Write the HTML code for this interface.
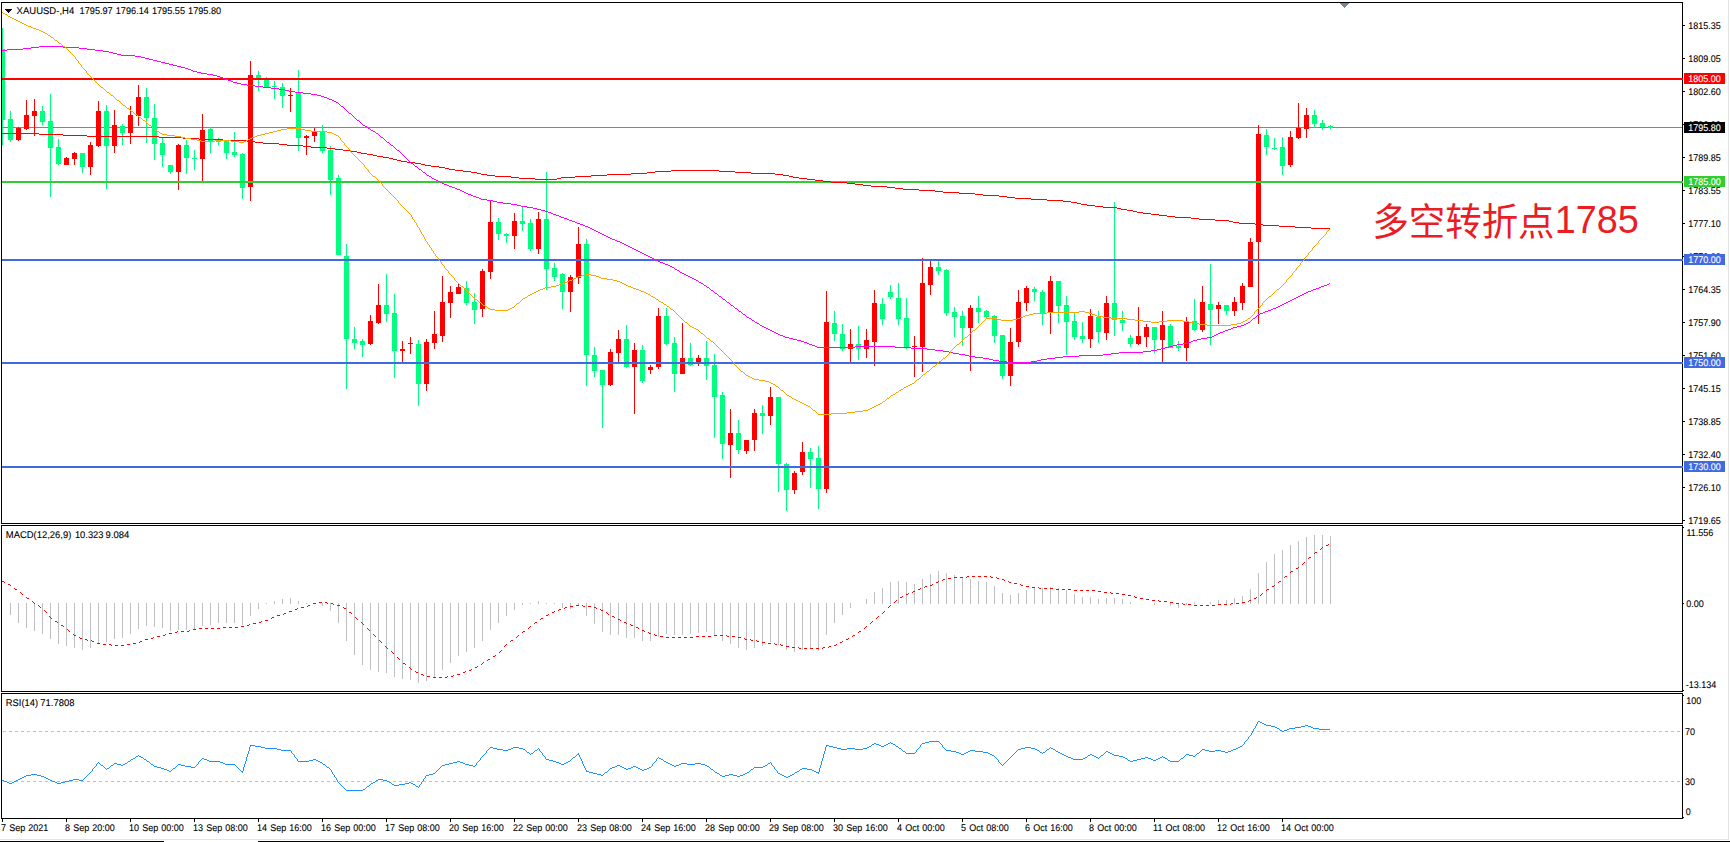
<!DOCTYPE html>
<html lang="zh"><head><meta charset="utf-8"><title>XAUUSD H4</title>
<style>html,body{margin:0;padding:0;background:#fff;overflow:hidden}svg{display:block}text{word-spacing:.5px;font-family:"Liberation Sans","Noto Sans CJK SC",sans-serif}.s{font-size:9px;fill:#000;stroke:#000;stroke-width:.1px}.w{font-size:9px;fill:#fff;stroke:#fff;stroke-width:.1px}.cn{font-family:"Liberation Sans","Noto Sans CJK SC",sans-serif;font-size:37px;fill:#ea1c24}</style>
</head><body>
<svg width="1730" height="842" viewBox="0 0 1730 842">
<rect x="0" y="0" width="1730" height="842" fill="#ffffff"/>
<g shape-rendering="crispEdges">
<rect x="1728" y="0" width="1" height="840" fill="#e3e3e3"/>
<rect x="0" y="839" width="1729" height="1" fill="#e3e3e3"/>
<rect x="0" y="841" width="164" height="1" fill="#000"/>
<rect x="258" y="841" width="1472" height="1" fill="#000"/>
<rect x="2" y="127" width="1680" height="1" fill="#778899"/>
<rect x="2" y="28" width="1" height="117" fill="#00ff7f"/>
<rect x="2" y="49" width="3" height="71" fill="#00ff7f"/>
<rect x="10" y="111" width="1" height="31" fill="#00ff7f"/>
<rect x="8" y="119" width="5" height="21" fill="#00ff7f"/>
<rect x="18" y="127" width="1" height="14" fill="#ff0000"/>
<rect x="16" y="128" width="5" height="12" fill="#ff0000"/>
<rect x="26" y="100" width="1" height="30" fill="#ff0000"/>
<rect x="24" y="115" width="5" height="14" fill="#ff0000"/>
<rect x="34" y="99" width="1" height="37" fill="#ff0000"/>
<rect x="32" y="111" width="5" height="5" fill="#ff0000"/>
<rect x="42" y="106" width="1" height="19" fill="#00ff7f"/>
<rect x="40" y="111" width="5" height="11" fill="#00ff7f"/>
<rect x="50" y="94" width="1" height="103" fill="#00ff7f"/>
<rect x="48" y="121" width="5" height="27" fill="#00ff7f"/>
<rect x="58" y="139" width="1" height="26" fill="#00ff7f"/>
<rect x="56" y="147" width="5" height="17" fill="#00ff7f"/>
<rect x="66" y="157" width="1" height="8" fill="#ff0000"/>
<rect x="64" y="158" width="5" height="7" fill="#ff0000"/>
<rect x="74" y="152" width="1" height="13" fill="#ff0000"/>
<rect x="72" y="153" width="5" height="6" fill="#ff0000"/>
<rect x="82" y="153" width="1" height="20" fill="#00ff7f"/>
<rect x="80" y="153" width="5" height="14" fill="#00ff7f"/>
<rect x="90" y="142" width="1" height="33" fill="#ff0000"/>
<rect x="88" y="145" width="5" height="22" fill="#ff0000"/>
<rect x="98" y="101" width="1" height="46" fill="#ff0000"/>
<rect x="96" y="111" width="5" height="35" fill="#ff0000"/>
<rect x="106" y="105" width="1" height="84" fill="#00ff7f"/>
<rect x="104" y="111" width="5" height="35" fill="#00ff7f"/>
<rect x="114" y="110" width="1" height="43" fill="#ff0000"/>
<rect x="112" y="125" width="5" height="21" fill="#ff0000"/>
<rect x="122" y="124" width="1" height="21" fill="#00ff7f"/>
<rect x="120" y="126" width="5" height="7" fill="#00ff7f"/>
<rect x="130" y="106" width="1" height="38" fill="#ff0000"/>
<rect x="128" y="115" width="5" height="18" fill="#ff0000"/>
<rect x="138" y="85" width="1" height="41" fill="#ff0000"/>
<rect x="136" y="97" width="5" height="19" fill="#ff0000"/>
<rect x="146" y="88" width="1" height="55" fill="#00ff7f"/>
<rect x="144" y="97" width="5" height="21" fill="#00ff7f"/>
<rect x="154" y="104" width="1" height="56" fill="#00ff7f"/>
<rect x="152" y="118" width="5" height="26" fill="#00ff7f"/>
<rect x="162" y="138" width="1" height="29" fill="#00ff7f"/>
<rect x="160" y="143" width="5" height="12" fill="#00ff7f"/>
<rect x="170" y="165" width="1" height="9" fill="#00ff7f"/>
<rect x="168" y="165" width="5" height="7" fill="#00ff7f"/>
<rect x="178" y="144" width="1" height="46" fill="#ff0000"/>
<rect x="176" y="145" width="5" height="27" fill="#ff0000"/>
<rect x="186" y="140" width="1" height="34" fill="#00ff7f"/>
<rect x="184" y="145" width="5" height="13" fill="#00ff7f"/>
<rect x="194" y="150" width="1" height="20" fill="#00ff7f"/>
<rect x="192" y="158" width="5" height="1" fill="#00ff7f"/>
<rect x="202" y="114" width="1" height="67" fill="#ff0000"/>
<rect x="200" y="130" width="5" height="29" fill="#ff0000"/>
<rect x="210" y="127" width="1" height="26" fill="#00ff7f"/>
<rect x="208" y="129" width="5" height="12" fill="#00ff7f"/>
<rect x="218" y="138" width="1" height="7" fill="#00ff7f"/>
<rect x="216" y="140" width="5" height="2" fill="#00ff7f"/>
<rect x="226" y="140" width="1" height="19" fill="#00ff7f"/>
<rect x="224" y="141" width="5" height="12" fill="#00ff7f"/>
<rect x="234" y="132" width="1" height="25" fill="#00ff7f"/>
<rect x="232" y="152" width="5" height="3" fill="#00ff7f"/>
<rect x="242" y="153" width="1" height="46" fill="#00ff7f"/>
<rect x="240" y="154" width="5" height="34" fill="#00ff7f"/>
<rect x="250" y="61" width="1" height="140" fill="#ff0000"/>
<rect x="248" y="75" width="5" height="112" fill="#ff0000"/>
<rect x="258" y="71" width="1" height="20" fill="#00ff7f"/>
<rect x="256" y="75" width="5" height="3" fill="#00ff7f"/>
<rect x="266" y="77" width="1" height="10" fill="#00ff7f"/>
<rect x="264" y="79" width="5" height="8" fill="#00ff7f"/>
<rect x="274" y="81" width="1" height="18" fill="#00ff7f"/>
<rect x="272" y="86" width="5" height="1" fill="#00ff7f"/>
<rect x="282" y="83" width="1" height="25" fill="#00ff7f"/>
<rect x="280" y="87" width="5" height="9" fill="#00ff7f"/>
<rect x="290" y="88" width="1" height="24" fill="#ff0000"/>
<rect x="288" y="95" width="5" height="1" fill="#ff0000"/>
<rect x="298" y="70" width="1" height="81" fill="#00ff7f"/>
<rect x="296" y="93" width="5" height="45" fill="#00ff7f"/>
<rect x="306" y="135" width="1" height="20" fill="#ff0000"/>
<rect x="304" y="136" width="5" height="2" fill="#ff0000"/>
<rect x="314" y="128" width="1" height="14" fill="#ff0000"/>
<rect x="312" y="132" width="5" height="4" fill="#ff0000"/>
<rect x="322" y="125" width="1" height="28" fill="#00ff7f"/>
<rect x="320" y="132" width="5" height="19" fill="#00ff7f"/>
<rect x="330" y="146" width="1" height="49" fill="#00ff7f"/>
<rect x="328" y="150" width="5" height="30" fill="#00ff7f"/>
<rect x="338" y="175" width="1" height="80" fill="#00ff7f"/>
<rect x="336" y="178" width="5" height="77" fill="#00ff7f"/>
<rect x="346" y="244" width="1" height="145" fill="#00ff7f"/>
<rect x="344" y="256" width="5" height="83" fill="#00ff7f"/>
<rect x="354" y="327" width="1" height="22" fill="#00ff7f"/>
<rect x="352" y="339" width="5" height="4" fill="#00ff7f"/>
<rect x="362" y="339" width="1" height="18" fill="#00ff7f"/>
<rect x="360" y="341" width="5" height="4" fill="#00ff7f"/>
<rect x="370" y="315" width="1" height="30" fill="#ff0000"/>
<rect x="368" y="321" width="5" height="23" fill="#ff0000"/>
<rect x="378" y="284" width="1" height="40" fill="#ff0000"/>
<rect x="376" y="305" width="5" height="18" fill="#ff0000"/>
<rect x="386" y="274" width="1" height="48" fill="#00ff7f"/>
<rect x="384" y="305" width="5" height="9" fill="#00ff7f"/>
<rect x="394" y="294" width="1" height="84" fill="#00ff7f"/>
<rect x="392" y="313" width="5" height="38" fill="#00ff7f"/>
<rect x="402" y="341" width="1" height="21" fill="#ff0000"/>
<rect x="400" y="349" width="5" height="2" fill="#ff0000"/>
<rect x="410" y="337" width="1" height="17" fill="#ff0000"/>
<rect x="408" y="343" width="5" height="1" fill="#ff0000"/>
<rect x="418" y="340" width="1" height="66" fill="#00ff7f"/>
<rect x="416" y="344" width="5" height="40" fill="#00ff7f"/>
<rect x="426" y="339" width="1" height="52" fill="#ff0000"/>
<rect x="424" y="342" width="5" height="42" fill="#ff0000"/>
<rect x="434" y="311" width="1" height="38" fill="#ff0000"/>
<rect x="432" y="334" width="5" height="9" fill="#ff0000"/>
<rect x="442" y="276" width="1" height="66" fill="#ff0000"/>
<rect x="440" y="302" width="5" height="34" fill="#ff0000"/>
<rect x="450" y="286" width="1" height="32" fill="#ff0000"/>
<rect x="448" y="292" width="5" height="11" fill="#ff0000"/>
<rect x="458" y="284" width="1" height="10" fill="#ff0000"/>
<rect x="456" y="287" width="5" height="7" fill="#ff0000"/>
<rect x="466" y="281" width="1" height="24" fill="#00ff7f"/>
<rect x="464" y="288" width="5" height="15" fill="#00ff7f"/>
<rect x="474" y="293" width="1" height="31" fill="#00ff7f"/>
<rect x="472" y="302" width="5" height="8" fill="#00ff7f"/>
<rect x="482" y="269" width="1" height="48" fill="#ff0000"/>
<rect x="480" y="271" width="5" height="38" fill="#ff0000"/>
<rect x="490" y="200" width="1" height="79" fill="#ff0000"/>
<rect x="488" y="222" width="5" height="50" fill="#ff0000"/>
<rect x="498" y="218" width="1" height="22" fill="#00ff7f"/>
<rect x="496" y="222" width="5" height="12" fill="#00ff7f"/>
<rect x="506" y="233" width="1" height="10" fill="#00ff7f"/>
<rect x="504" y="234" width="5" height="2" fill="#00ff7f"/>
<rect x="514" y="213" width="1" height="36" fill="#ff0000"/>
<rect x="512" y="221" width="5" height="15" fill="#ff0000"/>
<rect x="522" y="207" width="1" height="24" fill="#00ff7f"/>
<rect x="520" y="221" width="5" height="3" fill="#00ff7f"/>
<rect x="530" y="219" width="1" height="32" fill="#00ff7f"/>
<rect x="528" y="223" width="5" height="26" fill="#00ff7f"/>
<rect x="538" y="212" width="1" height="42" fill="#ff0000"/>
<rect x="536" y="219" width="5" height="30" fill="#ff0000"/>
<rect x="546" y="172" width="1" height="118" fill="#00ff7f"/>
<rect x="544" y="219" width="5" height="50" fill="#00ff7f"/>
<rect x="554" y="263" width="1" height="18" fill="#00ff7f"/>
<rect x="552" y="268" width="5" height="9" fill="#00ff7f"/>
<rect x="562" y="273" width="1" height="36" fill="#00ff7f"/>
<rect x="560" y="274" width="5" height="18" fill="#00ff7f"/>
<rect x="570" y="275" width="1" height="37" fill="#ff0000"/>
<rect x="568" y="277" width="5" height="15" fill="#ff0000"/>
<rect x="578" y="227" width="1" height="57" fill="#ff0000"/>
<rect x="576" y="244" width="5" height="34" fill="#ff0000"/>
<rect x="586" y="239" width="1" height="147" fill="#00ff7f"/>
<rect x="584" y="244" width="5" height="111" fill="#00ff7f"/>
<rect x="594" y="347" width="1" height="30" fill="#00ff7f"/>
<rect x="592" y="355" width="5" height="16" fill="#00ff7f"/>
<rect x="602" y="370" width="1" height="58" fill="#00ff7f"/>
<rect x="600" y="370" width="5" height="15" fill="#00ff7f"/>
<rect x="610" y="349" width="1" height="37" fill="#ff0000"/>
<rect x="608" y="352" width="5" height="33" fill="#ff0000"/>
<rect x="618" y="330" width="1" height="33" fill="#ff0000"/>
<rect x="616" y="339" width="5" height="14" fill="#ff0000"/>
<rect x="626" y="325" width="1" height="43" fill="#00ff7f"/>
<rect x="624" y="339" width="5" height="28" fill="#00ff7f"/>
<rect x="634" y="343" width="1" height="71" fill="#ff0000"/>
<rect x="632" y="350" width="5" height="17" fill="#ff0000"/>
<rect x="642" y="345" width="1" height="38" fill="#00ff7f"/>
<rect x="640" y="350" width="5" height="31" fill="#00ff7f"/>
<rect x="650" y="365" width="1" height="9" fill="#ff0000"/>
<rect x="648" y="367" width="5" height="3" fill="#ff0000"/>
<rect x="658" y="308" width="1" height="61" fill="#ff0000"/>
<rect x="656" y="316" width="5" height="51" fill="#ff0000"/>
<rect x="666" y="308" width="1" height="37" fill="#00ff7f"/>
<rect x="664" y="316" width="5" height="28" fill="#00ff7f"/>
<rect x="674" y="337" width="1" height="55" fill="#00ff7f"/>
<rect x="672" y="343" width="5" height="31" fill="#00ff7f"/>
<rect x="682" y="323" width="1" height="51" fill="#ff0000"/>
<rect x="680" y="358" width="5" height="16" fill="#ff0000"/>
<rect x="690" y="343" width="1" height="23" fill="#00ff7f"/>
<rect x="688" y="358" width="5" height="7" fill="#00ff7f"/>
<rect x="698" y="355" width="1" height="11" fill="#ff0000"/>
<rect x="696" y="358" width="5" height="6" fill="#ff0000"/>
<rect x="706" y="341" width="1" height="39" fill="#00ff7f"/>
<rect x="704" y="358" width="5" height="8" fill="#00ff7f"/>
<rect x="714" y="354" width="1" height="84" fill="#00ff7f"/>
<rect x="712" y="365" width="5" height="32" fill="#00ff7f"/>
<rect x="722" y="392" width="1" height="67" fill="#00ff7f"/>
<rect x="720" y="395" width="5" height="49" fill="#00ff7f"/>
<rect x="730" y="409" width="1" height="69" fill="#ff0000"/>
<rect x="728" y="433" width="5" height="12" fill="#ff0000"/>
<rect x="738" y="420" width="1" height="34" fill="#00ff7f"/>
<rect x="736" y="433" width="5" height="17" fill="#00ff7f"/>
<rect x="746" y="440" width="1" height="14" fill="#ff0000"/>
<rect x="744" y="440" width="5" height="11" fill="#ff0000"/>
<rect x="754" y="409" width="1" height="42" fill="#ff0000"/>
<rect x="752" y="413" width="5" height="27" fill="#ff0000"/>
<rect x="762" y="405" width="1" height="29" fill="#00ff7f"/>
<rect x="760" y="413" width="5" height="3" fill="#00ff7f"/>
<rect x="770" y="387" width="1" height="38" fill="#ff0000"/>
<rect x="768" y="397" width="5" height="19" fill="#ff0000"/>
<rect x="778" y="397" width="1" height="95" fill="#00ff7f"/>
<rect x="776" y="397" width="5" height="67" fill="#00ff7f"/>
<rect x="786" y="463" width="1" height="48" fill="#00ff7f"/>
<rect x="784" y="464" width="5" height="26" fill="#00ff7f"/>
<rect x="794" y="471" width="1" height="23" fill="#ff0000"/>
<rect x="792" y="473" width="5" height="17" fill="#ff0000"/>
<rect x="802" y="442" width="1" height="33" fill="#ff0000"/>
<rect x="800" y="452" width="5" height="20" fill="#ff0000"/>
<rect x="810" y="448" width="1" height="40" fill="#00ff7f"/>
<rect x="808" y="452" width="5" height="7" fill="#00ff7f"/>
<rect x="818" y="446" width="1" height="63" fill="#00ff7f"/>
<rect x="816" y="458" width="5" height="31" fill="#00ff7f"/>
<rect x="826" y="291" width="1" height="202" fill="#ff0000"/>
<rect x="824" y="322" width="5" height="167" fill="#ff0000"/>
<rect x="834" y="311" width="1" height="30" fill="#00ff7f"/>
<rect x="832" y="323" width="5" height="11" fill="#00ff7f"/>
<rect x="842" y="324" width="1" height="27" fill="#00ff7f"/>
<rect x="840" y="334" width="5" height="15" fill="#00ff7f"/>
<rect x="850" y="329" width="1" height="33" fill="#ff0000"/>
<rect x="848" y="344" width="5" height="5" fill="#ff0000"/>
<rect x="858" y="326" width="1" height="34" fill="#00ff7f"/>
<rect x="856" y="344" width="5" height="5" fill="#00ff7f"/>
<rect x="866" y="329" width="1" height="29" fill="#ff0000"/>
<rect x="864" y="340" width="5" height="9" fill="#ff0000"/>
<rect x="874" y="290" width="1" height="76" fill="#ff0000"/>
<rect x="872" y="303" width="5" height="39" fill="#ff0000"/>
<rect x="882" y="298" width="1" height="27" fill="#00ff7f"/>
<rect x="880" y="304" width="5" height="15" fill="#00ff7f"/>
<rect x="890" y="285" width="1" height="14" fill="#00ff7f"/>
<rect x="888" y="292" width="5" height="5" fill="#00ff7f"/>
<rect x="898" y="283" width="1" height="42" fill="#00ff7f"/>
<rect x="896" y="298" width="5" height="21" fill="#00ff7f"/>
<rect x="906" y="298" width="1" height="51" fill="#00ff7f"/>
<rect x="904" y="318" width="5" height="30" fill="#00ff7f"/>
<rect x="914" y="336" width="1" height="41" fill="#ff0000"/>
<rect x="912" y="346" width="5" height="1" fill="#ff0000"/>
<rect x="922" y="258" width="1" height="114" fill="#ff0000"/>
<rect x="920" y="283" width="5" height="64" fill="#ff0000"/>
<rect x="930" y="261" width="1" height="34" fill="#ff0000"/>
<rect x="928" y="267" width="5" height="18" fill="#ff0000"/>
<rect x="938" y="261" width="1" height="14" fill="#00ff7f"/>
<rect x="936" y="267" width="5" height="4" fill="#00ff7f"/>
<rect x="946" y="269" width="1" height="47" fill="#00ff7f"/>
<rect x="944" y="270" width="5" height="43" fill="#00ff7f"/>
<rect x="954" y="307" width="1" height="30" fill="#00ff7f"/>
<rect x="952" y="312" width="5" height="5" fill="#00ff7f"/>
<rect x="962" y="311" width="1" height="35" fill="#00ff7f"/>
<rect x="960" y="316" width="5" height="12" fill="#00ff7f"/>
<rect x="970" y="305" width="1" height="66" fill="#ff0000"/>
<rect x="968" y="308" width="5" height="20" fill="#ff0000"/>
<rect x="978" y="296" width="1" height="27" fill="#00ff7f"/>
<rect x="976" y="308" width="5" height="4" fill="#00ff7f"/>
<rect x="986" y="310" width="1" height="8" fill="#00ff7f"/>
<rect x="984" y="311" width="5" height="6" fill="#00ff7f"/>
<rect x="994" y="315" width="1" height="28" fill="#00ff7f"/>
<rect x="992" y="316" width="5" height="20" fill="#00ff7f"/>
<rect x="1002" y="335" width="1" height="44" fill="#00ff7f"/>
<rect x="1000" y="335" width="5" height="41" fill="#00ff7f"/>
<rect x="1010" y="328" width="1" height="58" fill="#ff0000"/>
<rect x="1008" y="342" width="5" height="34" fill="#ff0000"/>
<rect x="1018" y="290" width="1" height="57" fill="#ff0000"/>
<rect x="1016" y="302" width="5" height="40" fill="#ff0000"/>
<rect x="1026" y="286" width="1" height="25" fill="#ff0000"/>
<rect x="1024" y="288" width="5" height="15" fill="#ff0000"/>
<rect x="1034" y="287" width="1" height="14" fill="#00ff7f"/>
<rect x="1032" y="289" width="5" height="3" fill="#00ff7f"/>
<rect x="1042" y="290" width="1" height="35" fill="#00ff7f"/>
<rect x="1040" y="292" width="5" height="22" fill="#00ff7f"/>
<rect x="1050" y="276" width="1" height="58" fill="#ff0000"/>
<rect x="1048" y="281" width="5" height="31" fill="#ff0000"/>
<rect x="1058" y="281" width="1" height="42" fill="#00ff7f"/>
<rect x="1056" y="281" width="5" height="25" fill="#00ff7f"/>
<rect x="1066" y="296" width="1" height="59" fill="#00ff7f"/>
<rect x="1064" y="305" width="5" height="17" fill="#00ff7f"/>
<rect x="1074" y="313" width="1" height="27" fill="#00ff7f"/>
<rect x="1072" y="321" width="5" height="16" fill="#00ff7f"/>
<rect x="1082" y="322" width="1" height="21" fill="#00ff7f"/>
<rect x="1080" y="336" width="5" height="3" fill="#00ff7f"/>
<rect x="1090" y="309" width="1" height="39" fill="#ff0000"/>
<rect x="1088" y="316" width="5" height="23" fill="#ff0000"/>
<rect x="1098" y="311" width="1" height="32" fill="#00ff7f"/>
<rect x="1096" y="317" width="5" height="15" fill="#00ff7f"/>
<rect x="1106" y="296" width="1" height="44" fill="#ff0000"/>
<rect x="1104" y="303" width="5" height="30" fill="#ff0000"/>
<rect x="1114" y="202" width="1" height="134" fill="#00ff7f"/>
<rect x="1112" y="303" width="5" height="17" fill="#00ff7f"/>
<rect x="1122" y="311" width="1" height="20" fill="#00ff7f"/>
<rect x="1120" y="320" width="5" height="3" fill="#00ff7f"/>
<rect x="1130" y="335" width="1" height="12" fill="#00ff7f"/>
<rect x="1128" y="338" width="5" height="6" fill="#00ff7f"/>
<rect x="1138" y="307" width="1" height="38" fill="#ff0000"/>
<rect x="1136" y="336" width="5" height="8" fill="#ff0000"/>
<rect x="1146" y="324" width="1" height="23" fill="#ff0000"/>
<rect x="1144" y="327" width="5" height="10" fill="#ff0000"/>
<rect x="1154" y="327" width="1" height="26" fill="#00ff7f"/>
<rect x="1152" y="327" width="5" height="13" fill="#00ff7f"/>
<rect x="1162" y="311" width="1" height="51" fill="#ff0000"/>
<rect x="1160" y="325" width="5" height="15" fill="#ff0000"/>
<rect x="1170" y="324" width="1" height="24" fill="#00ff7f"/>
<rect x="1168" y="326" width="5" height="22" fill="#00ff7f"/>
<rect x="1178" y="341" width="1" height="10" fill="#00ff7f"/>
<rect x="1176" y="346" width="5" height="2" fill="#00ff7f"/>
<rect x="1186" y="317" width="1" height="44" fill="#ff0000"/>
<rect x="1184" y="322" width="5" height="26" fill="#ff0000"/>
<rect x="1194" y="299" width="1" height="32" fill="#00ff7f"/>
<rect x="1192" y="321" width="5" height="9" fill="#00ff7f"/>
<rect x="1202" y="286" width="1" height="46" fill="#ff0000"/>
<rect x="1200" y="302" width="5" height="28" fill="#ff0000"/>
<rect x="1210" y="264" width="1" height="81" fill="#00ff7f"/>
<rect x="1208" y="304" width="5" height="6" fill="#00ff7f"/>
<rect x="1218" y="302" width="1" height="22" fill="#ff0000"/>
<rect x="1216" y="305" width="5" height="4" fill="#ff0000"/>
<rect x="1226" y="305" width="1" height="10" fill="#00ff7f"/>
<rect x="1224" y="305" width="5" height="6" fill="#00ff7f"/>
<rect x="1234" y="297" width="1" height="19" fill="#ff0000"/>
<rect x="1232" y="302" width="5" height="9" fill="#ff0000"/>
<rect x="1242" y="283" width="1" height="27" fill="#ff0000"/>
<rect x="1240" y="286" width="5" height="17" fill="#ff0000"/>
<rect x="1250" y="238" width="1" height="49" fill="#ff0000"/>
<rect x="1248" y="242" width="5" height="45" fill="#ff0000"/>
<rect x="1258" y="125" width="1" height="199" fill="#ff0000"/>
<rect x="1256" y="134" width="5" height="108" fill="#ff0000"/>
<rect x="1266" y="129" width="1" height="26" fill="#00ff7f"/>
<rect x="1264" y="135" width="5" height="12" fill="#00ff7f"/>
<rect x="1274" y="138" width="1" height="12" fill="#00ff7f"/>
<rect x="1272" y="148" width="5" height="1" fill="#00ff7f"/>
<rect x="1282" y="137" width="1" height="38" fill="#00ff7f"/>
<rect x="1280" y="147" width="5" height="19" fill="#00ff7f"/>
<rect x="1290" y="131" width="1" height="36" fill="#ff0000"/>
<rect x="1288" y="137" width="5" height="28" fill="#ff0000"/>
<rect x="1298" y="103" width="1" height="36" fill="#ff0000"/>
<rect x="1296" y="128" width="5" height="10" fill="#ff0000"/>
<rect x="1306" y="108" width="1" height="30" fill="#ff0000"/>
<rect x="1304" y="115" width="5" height="14" fill="#ff0000"/>
<rect x="1314" y="110" width="1" height="18" fill="#00ff7f"/>
<rect x="1312" y="115" width="5" height="9" fill="#00ff7f"/>
<rect x="1322" y="120" width="1" height="10" fill="#00ff7f"/>
<rect x="1320" y="123" width="5" height="4" fill="#00ff7f"/>
<rect x="1330" y="125" width="1" height="4" fill="#00ff7f"/>
<rect x="1328" y="126" width="5" height="2" fill="#00ff7f"/>
<rect x="2" y="78" width="1680" height="2" fill="#ff0000"/>
<rect x="2" y="181" width="1680" height="2" fill="#32cd32"/>
<rect x="2" y="259" width="1680" height="2" fill="#4169e1"/>
<rect x="2" y="362" width="1680" height="2" fill="#4169e1"/>
<rect x="2" y="466" width="1680" height="2" fill="#4169e1"/>
</g>
<path shape-rendering="crispEdges" fill="#ff0000" d="M2 133h37v1h-37zM39 134h24v1h-24zM63 135h24v1h-24zM87 136h72v1h-72zM159 137h24v1h-24zM183 138h16v1h-16zM199 139h24v1h-24zM223 140h24v1h-24zM247 141h8v1h-8zM255 142h8v1h-8zM263 143h16v1h-16zM279 144h8v1h-8zM287 145h16v1h-16zM303 146h8v1h-8zM311 147h16v1h-16zM327 148h8v1h-8zM335 149h8v1h-8zM343 150h8v1h-8zM351 151h6v1h-6zM357 152h4v1h-4zM361 153h6v1h-6zM367 154h6v1h-6zM373 155h4v1h-4zM377 156h6v1h-6zM383 157h6v1h-6zM389 158h4v1h-4zM393 159h4v1h-4zM397 160h4v1h-4zM401 161h6v1h-6zM407 162h8v1h-8zM415 163h6v1h-6zM421 164h4v1h-4zM425 165h6v1h-6zM431 166h8v1h-8zM439 167h6v1h-6zM445 168h4v1h-4zM449 169h6v1h-6zM455 170h8v1h-8zM671 170h48v1h-48zM463 171h8v1h-8zM655 171h16v1h-16zM719 171h16v1h-16zM471 172h6v1h-6zM647 172h8v1h-8zM735 172h16v1h-16zM477 173h4v1h-4zM631 173h16v1h-16zM751 173h24v1h-24zM481 174h6v1h-6zM607 174h24v1h-24zM775 174h8v1h-8zM487 175h8v1h-8zM591 175h16v1h-16zM783 175h6v1h-6zM495 176h16v1h-16zM575 176h16v1h-16zM789 176h4v1h-4zM511 177h8v1h-8zM561 177h14v1h-14zM793 177h6v1h-6zM519 178h16v1h-16zM557 178h4v1h-4zM799 178h8v1h-8zM535 179h22v1h-22zM807 179h8v1h-8zM815 180h8v1h-8zM823 181h8v1h-8zM831 182h16v1h-16zM847 183h8v1h-8zM855 184h8v1h-8zM863 185h8v1h-8zM871 186h16v1h-16zM887 187h8v1h-8zM895 188h8v1h-8zM903 189h16v1h-16zM919 190h16v1h-16zM935 191h8v1h-8zM943 192h16v1h-16zM959 193h16v1h-16zM975 194h8v1h-8zM983 195h16v1h-16zM999 196h8v1h-8zM1007 197h8v1h-8zM1015 198h16v1h-16zM1031 199h16v1h-16zM1047 200h16v1h-16zM1063 201h8v1h-8zM1071 202h6v1h-6zM1077 203h4v1h-4zM1081 204h6v1h-6zM1087 205h8v1h-8zM1095 206h8v1h-8zM1103 207h14v1h-14zM1117 208h4v1h-4zM1121 209h6v1h-6zM1127 210h6v1h-6zM1133 211h4v1h-4zM1137 212h6v1h-6zM1143 213h8v1h-8zM1151 214h8v1h-8zM1159 215h8v1h-8zM1167 216h8v1h-8zM1175 217h16v1h-16zM1191 218h8v1h-8zM1199 219h16v1h-16zM1215 220h14v1h-14zM1229 221h4v1h-4zM1233 222h6v1h-6zM1239 223h16v1h-16zM1255 224h8v1h-8zM1263 225h16v1h-16zM1279 226h16v1h-16zM1295 227h16v1h-16zM1311 228h19v1h-19z"/>
<path shape-rendering="crispEdges" fill="#ff00ff" d="M39 46h24v1h-24zM31 47h8v1h-8zM63 47h16v1h-16zM23 48h8v1h-8zM79 48h8v1h-8zM7 49h16v1h-16zM87 49h8v1h-8zM2 50h5v1h-5zM95 50h8v1h-8zM103 51h6v1h-6zM109 52h4v1h-4zM113 53h4v1h-4zM117 54h4v1h-4zM121 55h14v1h-14zM135 56h6v1h-6zM141 57h4v1h-4zM145 58h4v1h-4zM149 59h4v1h-4zM153 60h4v1h-4zM157 61h4v1h-4zM161 62h4v1h-4zM165 63h4v1h-4zM169 64h4v1h-4zM173 65h4v1h-4zM177 66h4v1h-4zM181 67h4v1h-4zM185 68h3v1h-3zM188 69h3v1h-3zM191 70h2v1h-2zM193 71h4v1h-4zM197 72h4v1h-4zM201 73h6v1h-6zM207 74h6v1h-6zM213 75h4v1h-4zM217 76h3v1h-3zM220 77h3v1h-3zM223 78h2v1h-2zM225 79h3v1h-3zM228 80h3v1h-3zM231 81h2v1h-2zM233 82h4v1h-4zM237 83h4v1h-4zM241 84h6v1h-6zM247 85h8v1h-8zM255 86h8v1h-8zM263 87h8v1h-8zM271 88h8v1h-8zM279 89h6v1h-6zM285 90h4v1h-4zM289 91h6v1h-6zM295 92h8v1h-8zM303 93h8v1h-8zM311 94h6v1h-6zM317 95h4v1h-4zM321 96h3v1h-3zM324 97h3v1h-3zM327 98h2v1h-2zM329 99h3v1h-3zM332 100h2v1h-2zM334 101h2v1h-2zM336 102h2v1h-2zM338 103h1v1h-1zM339 104h1v1h-1zM340 105h1v1h-1zM341 106h2v1h-2zM343 107h1v1h-1zM344 108h1v1h-1zM345 109h1v1h-1zM346 110h1v1h-1zM347 111h1v1h-1zM348 112h1v1h-1zM349 113h2v1h-2zM351 114h1v1h-1zM352 115h1v1h-1zM353 116h1v1h-1zM354 117h1v1h-1zM355 118h1v1h-1zM356 119h1v1h-1zM357 120h2v1h-2zM359 121h1v1h-1zM360 122h1v1h-1zM361 123h1v1h-1zM362 124h1v1h-1zM363 125h2v1h-2zM365 126h2v1h-2zM367 127h1v1h-1zM368 128h2v1h-2zM370 129h1v1h-1zM371 130h2v1h-2zM373 131h2v1h-2zM375 132h1v1h-1zM376 133h2v1h-2zM378 134h1v1h-1zM379 135h1v1h-1zM380 136h1v1h-1zM381 137h2v1h-2zM383 138h1v1h-1zM384 139h1v1h-1zM385 140h1v1h-1zM386 141h1v1h-1zM387 142h2v1h-2zM389 143h1v1h-1zM390 144h1v1h-1zM391 145h2v1h-2zM393 146h1v1h-1zM394 147h1v1h-1zM395 148h1v1h-1zM396 149h1v1h-1zM397 150h2v1h-2zM399 151h1v1h-1zM400 152h1v1h-1zM401 153h1v1h-1zM402 154h1v1h-1zM403 155h1v1h-1zM404 156h1v1h-1zM405 157h1v1h-1zM406 158h1v1h-1zM407 159h1v1h-1zM408 160h1v1h-1zM409 161h1v1h-1zM410 162h1v1h-1zM411 163h2v1h-2zM413 164h1v1h-1zM414 165h1v1h-1zM415 166h2v1h-2zM417 167h1v1h-1zM418 168h1v1h-1zM419 169h2v1h-2zM421 170h1v1h-1zM422 171h1v1h-1zM423 172h2v1h-2zM425 173h1v1h-1zM426 174h1v1h-1zM427 175h2v1h-2zM429 176h2v1h-2zM431 177h1v1h-1zM432 178h2v1h-2zM434 179h2v1h-2zM436 180h2v1h-2zM438 181h2v1h-2zM440 182h2v1h-2zM442 183h2v1h-2zM444 184h3v1h-3zM447 185h2v1h-2zM449 186h3v1h-3zM452 187h3v1h-3zM455 188h2v1h-2zM457 189h3v1h-3zM460 190h2v1h-2zM462 191h2v1h-2zM464 192h2v1h-2zM466 193h2v1h-2zM468 194h3v1h-3zM471 195h2v1h-2zM473 196h3v1h-3zM476 197h3v1h-3zM479 198h2v1h-2zM481 199h6v1h-6zM487 200h6v1h-6zM493 201h4v1h-4zM497 202h6v1h-6zM503 203h8v1h-8zM511 204h6v1h-6zM517 205h4v1h-4zM521 206h6v1h-6zM527 207h6v1h-6zM533 208h4v1h-4zM537 209h4v1h-4zM541 210h4v1h-4zM545 211h3v1h-3zM548 212h3v1h-3zM551 213h2v1h-2zM553 214h3v1h-3zM556 215h3v1h-3zM559 216h2v1h-2zM561 217h3v1h-3zM564 218h3v1h-3zM567 219h2v1h-2zM569 220h3v1h-3zM572 221h3v1h-3zM575 222h2v1h-2zM577 223h3v1h-3zM580 224h3v1h-3zM583 225h2v1h-2zM585 226h3v1h-3zM588 227h2v1h-2zM590 228h2v1h-2zM592 229h2v1h-2zM594 230h2v1h-2zM596 231h2v1h-2zM598 232h2v1h-2zM600 233h2v1h-2zM602 234h2v1h-2zM604 235h2v1h-2zM606 236h2v1h-2zM608 237h2v1h-2zM610 238h2v1h-2zM612 239h3v1h-3zM615 240h2v1h-2zM617 241h3v1h-3zM620 242h2v1h-2zM622 243h2v1h-2zM624 244h2v1h-2zM626 245h2v1h-2zM628 246h2v1h-2zM630 247h2v1h-2zM632 248h2v1h-2zM634 249h2v1h-2zM636 250h2v1h-2zM638 251h2v1h-2zM640 252h2v1h-2zM642 253h2v1h-2zM644 254h2v1h-2zM646 255h2v1h-2zM648 256h2v1h-2zM650 257h2v1h-2zM652 258h2v1h-2zM654 259h2v1h-2zM656 260h2v1h-2zM658 261h2v1h-2zM660 262h3v1h-3zM663 263h2v1h-2zM665 264h3v1h-3zM668 265h2v1h-2zM670 266h2v1h-2zM672 267h2v1h-2zM674 268h1v1h-1zM675 269h2v1h-2zM677 270h2v1h-2zM679 271h1v1h-1zM680 272h2v1h-2zM682 273h2v1h-2zM684 274h2v1h-2zM686 275h2v1h-2zM688 276h2v1h-2zM690 277h2v1h-2zM692 278h2v1h-2zM694 279h2v1h-2zM696 280h2v1h-2zM698 281h1v1h-1zM699 282h2v1h-2zM701 283h2v1h-2zM1329 283h1v1h-1zM703 284h1v1h-1zM1327 284h2v1h-2zM704 285h2v1h-2zM1324 285h3v1h-3zM706 286h1v1h-1zM1321 286h3v1h-3zM707 287h2v1h-2zM1319 287h2v1h-2zM709 288h1v1h-1zM1316 288h3v1h-3zM710 289h1v1h-1zM1313 289h3v1h-3zM711 290h2v1h-2zM1311 290h2v1h-2zM713 291h1v1h-1zM1308 291h3v1h-3zM714 292h1v1h-1zM1306 292h2v1h-2zM715 293h2v1h-2zM1304 293h2v1h-2zM717 294h1v1h-1zM1302 294h2v1h-2zM718 295h1v1h-1zM1300 295h2v1h-2zM719 296h2v1h-2zM1298 296h2v1h-2zM721 297h1v1h-1zM1296 297h2v1h-2zM722 298h1v1h-1zM1294 298h2v1h-2zM723 299h2v1h-2zM1292 299h2v1h-2zM725 300h1v1h-1zM1290 300h2v1h-2zM726 301h1v1h-1zM1288 301h2v1h-2zM727 302h2v1h-2zM1286 302h2v1h-2zM729 303h1v1h-1zM1284 303h2v1h-2zM730 304h1v1h-1zM1282 304h2v1h-2zM731 305h2v1h-2zM1280 305h2v1h-2zM733 306h1v1h-1zM1278 306h2v1h-2zM734 307h1v1h-1zM1276 307h2v1h-2zM735 308h2v1h-2zM1273 308h3v1h-3zM737 309h1v1h-1zM1271 309h2v1h-2zM738 310h1v1h-1zM1268 310h3v1h-3zM739 311h2v1h-2zM1265 311h3v1h-3zM741 312h1v1h-1zM1263 312h2v1h-2zM742 313h1v1h-1zM1260 313h3v1h-3zM743 314h2v1h-2zM1258 314h2v1h-2zM745 315h1v1h-1zM1257 315h1v1h-1zM746 316h1v1h-1zM1256 316h1v1h-1zM747 317h2v1h-2zM1255 317h1v1h-1zM749 318h2v1h-2zM1253 318h2v1h-2zM751 319h1v1h-1zM1252 319h1v1h-1zM752 320h2v1h-2zM1251 320h1v1h-1zM754 321h1v1h-1zM1250 321h1v1h-1zM755 322h2v1h-2zM1248 322h2v1h-2zM757 323h2v1h-2zM1246 323h2v1h-2zM759 324h1v1h-1zM1244 324h2v1h-2zM760 325h2v1h-2zM1241 325h3v1h-3zM762 326h2v1h-2zM1237 326h4v1h-4zM764 327h2v1h-2zM1233 327h4v1h-4zM766 328h2v1h-2zM1231 328h2v1h-2zM768 329h2v1h-2zM1228 329h3v1h-3zM770 330h2v1h-2zM1225 330h3v1h-3zM772 331h2v1h-2zM1223 331h2v1h-2zM774 332h2v1h-2zM1220 332h3v1h-3zM776 333h2v1h-2zM1218 333h2v1h-2zM778 334h2v1h-2zM1216 334h2v1h-2zM780 335h3v1h-3zM1214 335h2v1h-2zM783 336h2v1h-2zM1212 336h2v1h-2zM785 337h4v1h-4zM1207 337h5v1h-5zM789 338h4v1h-4zM1201 338h6v1h-6zM793 339h4v1h-4zM1197 339h4v1h-4zM797 340h4v1h-4zM1193 340h4v1h-4zM801 341h3v1h-3zM1191 341h2v1h-2zM804 342h3v1h-3zM1188 342h3v1h-3zM807 343h2v1h-2zM1183 343h5v1h-5zM809 344h3v1h-3zM1177 344h6v1h-6zM812 345h3v1h-3zM1173 345h4v1h-4zM815 346h2v1h-2zM855 346h40v1h-40zM1169 346h4v1h-4zM817 347h38v1h-38zM895 347h16v1h-16zM1165 347h4v1h-4zM911 348h16v1h-16zM1161 348h4v1h-4zM927 349h8v1h-8zM1157 349h4v1h-4zM935 350h8v1h-8zM1151 350h6v1h-6zM943 351h6v1h-6zM1143 351h8v1h-8zM949 352h4v1h-4zM1119 352h24v1h-24zM953 353h6v1h-6zM1111 353h8v1h-8zM959 354h6v1h-6zM1103 354h8v1h-8zM965 355h4v1h-4zM1079 355h24v1h-24zM969 356h6v1h-6zM1063 356h16v1h-16zM975 357h8v1h-8zM1055 357h8v1h-8zM983 358h6v1h-6zM1047 358h8v1h-8zM989 359h4v1h-4zM1041 359h6v1h-6zM993 360h6v1h-6zM1037 360h4v1h-4zM999 361h8v1h-8zM1031 361h6v1h-6zM1007 362h24v1h-24z"/>
<path shape-rendering="crispEdges" fill="#ffa500" d="M2 12h1v1h-1zM3 13h2v1h-2zM5 14h2v1h-2zM7 15h1v1h-1zM8 16h2v1h-2zM10 17h2v1h-2zM12 18h2v1h-2zM14 19h2v1h-2zM16 20h2v1h-2zM18 21h2v1h-2zM20 22h2v1h-2zM22 23h2v1h-2zM24 24h2v1h-2zM26 25h2v1h-2zM28 26h3v1h-3zM31 27h2v1h-2zM33 28h3v1h-3zM36 29h3v1h-3zM39 30h2v1h-2zM41 31h2v1h-2zM43 32h2v1h-2zM45 33h2v1h-2zM47 34h1v1h-1zM48 35h2v1h-2zM50 36h1v1h-1zM51 37h2v1h-2zM53 38h1v1h-1zM54 39h1v1h-1zM55 40h2v1h-2zM57 41h1v1h-1zM58 42h1v1h-1zM59 43h2v1h-2zM61 44h1v1h-1zM62 45h1v1h-1zM63 46h2v1h-2zM65 47h1v1h-1zM66 48h1v1h-1zM67 49h1v1h-1zM68 50h1v1h-1zM69 51h1v1h-1zM70 52h1v1h-1zM71 53h1v1h-1zM72 54h1v1h-1zM73 55h1v1h-1zM74 56h1v1h-1zM75 57h1v2h-1zM76 59h1v1h-1zM77 60h1v1h-1zM78 61h1v2h-1zM79 63h1v1h-1zM80 64h1v1h-1zM81 65h1v2h-1zM82 67h1v1h-1zM83 68h1v1h-1zM84 69h1v1h-1zM85 70h1v1h-1zM86 71h1v2h-1zM87 73h1v1h-1zM88 74h1v1h-1zM89 75h1v1h-1zM90 76h1v1h-1zM91 77h1v1h-1zM92 78h1v1h-1zM93 79h1v1h-1zM94 80h1v1h-1zM95 81h1v1h-1zM96 82h1v1h-1zM97 83h1v1h-1zM98 84h1v1h-1zM99 85h1v1h-1zM100 86h1v1h-1zM101 87h2v1h-2zM103 88h1v1h-1zM104 89h1v1h-1zM105 90h1v1h-1zM106 91h1v1h-1zM107 92h2v1h-2zM109 93h1v1h-1zM110 94h1v1h-1zM111 95h2v1h-2zM113 96h1v1h-1zM114 97h1v1h-1zM115 98h1v1h-1zM116 99h1v1h-1zM117 100h2v1h-2zM119 101h1v1h-1zM120 102h1v1h-1zM121 103h1v1h-1zM122 104h1v1h-1zM123 105h2v1h-2zM125 106h1v1h-1zM126 107h1v1h-1zM127 108h2v1h-2zM129 109h1v1h-1zM130 110h1v1h-1zM131 111h2v1h-2zM133 112h1v1h-1zM134 113h1v1h-1zM135 114h2v1h-2zM137 115h1v1h-1zM138 116h1v1h-1zM139 117h2v1h-2zM141 118h1v1h-1zM142 119h1v1h-1zM143 120h2v1h-2zM145 121h1v1h-1zM146 122h1v1h-1zM147 123h1v1h-1zM148 124h1v1h-1zM149 125h2v1h-2zM151 126h1v1h-1zM152 127h1v1h-1zM153 128h1v1h-1zM287 128h14v1h-14zM154 129h1v1h-1zM281 129h6v1h-6zM301 129h4v1h-4zM155 130h2v1h-2zM277 130h4v1h-4zM305 130h6v1h-6zM157 131h2v1h-2zM273 131h4v1h-4zM311 131h16v1h-16zM159 132h1v1h-1zM269 132h4v1h-4zM327 132h5v1h-5zM160 133h2v1h-2zM265 133h4v1h-4zM332 133h2v1h-2zM162 134h5v1h-5zM261 134h4v1h-4zM334 134h2v1h-2zM167 135h8v1h-8zM257 135h4v1h-4zM336 135h2v1h-2zM175 136h6v1h-6zM255 136h2v1h-2zM338 136h1v1h-1zM181 137h4v1h-4zM252 137h3v1h-3zM339 137h1v1h-1zM185 138h6v1h-6zM250 138h2v1h-2zM340 138h1v2h-1zM191 139h6v1h-6zM248 139h2v1h-2zM197 140h4v1h-4zM215 140h16v1h-16zM246 140h2v1h-2zM341 140h1v1h-1zM201 141h14v1h-14zM231 141h8v1h-8zM244 141h2v1h-2zM342 141h1v1h-1zM239 142h5v1h-5zM343 142h1v1h-1zM344 143h1v2h-1zM345 145h1v1h-1zM346 146h1v1h-1zM347 147h1v1h-1zM348 148h1v1h-1zM349 149h1v1h-1zM350 150h1v2h-1zM351 152h1v1h-1zM352 153h1v1h-1zM353 154h1v1h-1zM354 155h1v1h-1zM355 156h1v1h-1zM356 157h1v1h-1zM357 158h1v1h-1zM358 159h1v1h-1zM359 160h1v1h-1zM360 161h1v1h-1zM361 162h1v1h-1zM362 163h1v1h-1zM363 164h1v1h-1zM364 165h1v2h-1zM365 167h1v1h-1zM366 168h1v1h-1zM367 169h1v1h-1zM368 170h1v2h-1zM369 172h1v1h-1zM370 173h1v1h-1zM371 174h1v1h-1zM372 175h1v1h-1zM373 176h2v1h-2zM375 177h1v1h-1zM376 178h1v1h-1zM377 179h1v1h-1zM378 180h1v1h-1zM379 181h1v1h-1zM380 182h1v1h-1zM381 183h1v1h-1zM382 184h1v2h-1zM383 186h1v1h-1zM384 187h1v1h-1zM385 188h1v1h-1zM386 189h1v1h-1zM387 190h1v1h-1zM388 191h1v1h-1zM389 192h1v1h-1zM390 193h1v1h-1zM391 194h1v1h-1zM392 195h1v1h-1zM393 196h1v1h-1zM394 197h1v1h-1zM395 198h1v1h-1zM396 199h1v1h-1zM397 200h1v1h-1zM398 201h1v2h-1zM399 203h1v1h-1zM400 204h1v1h-1zM401 205h1v1h-1zM402 206h1v1h-1zM403 207h1v1h-1zM404 208h1v1h-1zM405 209h1v1h-1zM406 210h1v1h-1zM407 211h1v1h-1zM408 212h1v1h-1zM409 213h1v1h-1zM410 214h1v1h-1zM411 215h1v2h-1zM412 217h1v2h-1zM413 219h1v1h-1zM414 220h1v2h-1zM415 222h1v1h-1zM416 223h1v2h-1zM417 225h1v2h-1zM418 227h1v1h-1zM419 228h1v2h-1zM1329 229h1v1h-1zM420 230h1v2h-1zM1328 230h1v1h-1zM1327 231h1v1h-1zM421 232h1v2h-1zM1326 232h1v2h-1zM422 234h1v1h-1zM1325 234h1v1h-1zM423 235h1v2h-1zM1324 235h1v1h-1zM1323 236h1v1h-1zM424 237h1v2h-1zM1322 237h1v1h-1zM1321 238h1v1h-1zM425 239h1v2h-1zM1320 239h1v1h-1zM1319 240h1v1h-1zM426 241h1v1h-1zM1318 241h1v2h-1zM427 242h1v2h-1zM1317 243h1v1h-1zM428 244h1v1h-1zM1316 244h1v1h-1zM429 245h1v2h-1zM1315 245h1v1h-1zM1314 246h1v1h-1zM430 247h1v1h-1zM1313 247h1v1h-1zM431 248h1v2h-1zM1312 248h1v2h-1zM432 250h1v1h-1zM1311 250h1v1h-1zM433 251h1v2h-1zM1310 251h1v1h-1zM1309 252h1v1h-1zM434 253h1v1h-1zM1308 253h1v2h-1zM435 254h1v2h-1zM1307 255h1v1h-1zM436 256h1v1h-1zM1306 256h1v1h-1zM437 257h1v1h-1zM1305 257h1v1h-1zM438 258h1v2h-1zM1304 258h1v2h-1zM439 260h1v1h-1zM1303 260h1v1h-1zM440 261h1v1h-1zM1302 261h1v1h-1zM441 262h1v2h-1zM1301 262h1v1h-1zM1300 263h1v2h-1zM442 264h1v1h-1zM443 265h1v1h-1zM1299 265h1v1h-1zM444 266h1v2h-1zM1298 266h1v1h-1zM1297 267h1v1h-1zM445 268h1v1h-1zM1296 268h1v2h-1zM446 269h1v1h-1zM447 270h1v1h-1zM1295 270h1v1h-1zM448 271h1v2h-1zM1294 271h1v1h-1zM1293 272h1v1h-1zM449 273h1v1h-1zM1292 273h1v2h-1zM450 274h1v1h-1zM585 274h6v1h-6zM451 275h1v1h-1zM581 275h4v1h-4zM591 275h5v1h-5zM1291 275h1v1h-1zM452 276h1v1h-1zM578 276h3v1h-3zM596 276h3v1h-3zM1290 276h1v1h-1zM453 277h1v1h-1zM576 277h2v1h-2zM599 277h2v1h-2zM1289 277h1v1h-1zM454 278h1v2h-1zM574 278h2v1h-2zM601 278h6v1h-6zM1288 278h1v1h-1zM572 279h2v1h-2zM607 279h6v1h-6zM1287 279h1v1h-1zM455 280h1v1h-1zM569 280h3v1h-3zM613 280h4v1h-4zM1286 280h1v2h-1zM456 281h1v1h-1zM567 281h2v1h-2zM617 281h3v1h-3zM457 282h1v1h-1zM564 282h3v1h-3zM620 282h2v1h-2zM1285 282h1v1h-1zM458 283h1v1h-1zM561 283h3v1h-3zM622 283h2v1h-2zM1284 283h1v1h-1zM459 284h1v1h-1zM559 284h2v1h-2zM624 284h2v1h-2zM1283 284h1v1h-1zM460 285h1v1h-1zM556 285h3v1h-3zM626 285h2v1h-2zM1282 285h1v1h-1zM461 286h2v1h-2zM551 286h5v1h-5zM628 286h3v1h-3zM1281 286h1v1h-1zM463 287h1v1h-1zM545 287h6v1h-6zM631 287h2v1h-2zM1280 287h1v1h-1zM464 288h1v1h-1zM543 288h2v1h-2zM633 288h3v1h-3zM1279 288h1v1h-1zM465 289h1v1h-1zM540 289h3v1h-3zM636 289h3v1h-3zM1277 289h2v1h-2zM466 290h1v1h-1zM538 290h2v1h-2zM639 290h2v1h-2zM1276 290h1v1h-1zM467 291h1v1h-1zM536 291h2v1h-2zM641 291h3v1h-3zM1275 291h1v1h-1zM468 292h1v1h-1zM534 292h2v1h-2zM644 292h2v1h-2zM1274 292h1v1h-1zM469 293h1v1h-1zM532 293h2v1h-2zM646 293h2v1h-2zM1273 293h1v1h-1zM470 294h1v1h-1zM530 294h2v1h-2zM648 294h2v1h-2zM1272 294h1v1h-1zM471 295h1v1h-1zM528 295h2v1h-2zM650 295h1v1h-1zM1271 295h1v1h-1zM472 296h1v1h-1zM527 296h1v1h-1zM651 296h2v1h-2zM1269 296h2v1h-2zM473 297h1v1h-1zM525 297h2v1h-2zM653 297h2v1h-2zM1268 297h1v1h-1zM474 298h1v1h-1zM523 298h2v1h-2zM655 298h1v1h-1zM1267 298h1v1h-1zM475 299h2v1h-2zM522 299h1v1h-1zM656 299h2v1h-2zM1266 299h1v1h-1zM477 300h1v1h-1zM521 300h1v1h-1zM658 300h1v1h-1zM1265 300h1v1h-1zM478 301h1v1h-1zM520 301h1v1h-1zM659 301h2v1h-2zM1264 301h1v1h-1zM479 302h2v1h-2zM519 302h1v1h-1zM661 302h2v1h-2zM1263 302h1v1h-1zM481 303h1v1h-1zM517 303h2v1h-2zM663 303h1v1h-1zM1262 303h1v2h-1zM482 304h1v1h-1zM516 304h1v1h-1zM664 304h2v1h-2zM483 305h2v1h-2zM515 305h1v1h-1zM666 305h1v1h-1zM1261 305h1v1h-1zM485 306h2v1h-2zM514 306h1v1h-1zM667 306h2v1h-2zM1260 306h1v1h-1zM487 307h1v1h-1zM512 307h2v1h-2zM669 307h1v1h-1zM1259 307h1v1h-1zM488 308h2v1h-2zM510 308h2v1h-2zM670 308h1v1h-1zM1258 308h1v1h-1zM490 309h5v1h-5zM508 309h2v1h-2zM671 309h2v1h-2zM1257 309h1v1h-1zM495 310h13v1h-13zM673 310h1v1h-1zM1256 310h1v1h-1zM674 311h1v1h-1zM1079 311h6v1h-6zM1255 311h1v1h-1zM675 312h1v1h-1zM1047 312h32v1h-32zM1085 312h4v1h-4zM1254 312h1v2h-1zM676 313h1v1h-1zM1033 313h14v1h-14zM1089 313h3v1h-3zM677 314h1v1h-1zM1029 314h4v1h-4zM1092 314h3v1h-3zM1253 314h1v1h-1zM678 315h1v1h-1zM1025 315h4v1h-4zM1095 315h2v1h-2zM1252 315h1v1h-1zM679 316h1v1h-1zM1023 316h2v1h-2zM1097 316h6v1h-6zM1251 316h1v1h-1zM680 317h1v1h-1zM1020 317h3v1h-3zM1103 317h8v1h-8zM1250 317h1v1h-1zM681 318h1v1h-1zM986 318h11v1h-11zM1017 318h3v1h-3zM1111 318h16v1h-16zM1248 318h2v1h-2zM682 319h1v1h-1zM985 319h1v1h-1zM997 319h4v1h-4zM1013 319h4v1h-4zM1127 319h8v1h-8zM1247 319h1v1h-1zM683 320h1v1h-1zM984 320h1v1h-1zM1001 320h12v1h-12zM1135 320h8v1h-8zM1167 320h16v1h-16zM1245 320h2v1h-2zM684 321h1v1h-1zM983 321h1v1h-1zM1143 321h8v1h-8zM1159 321h8v1h-8zM1183 321h6v1h-6zM1243 321h2v1h-2zM685 322h2v1h-2zM982 322h1v1h-1zM1151 322h8v1h-8zM1189 322h4v1h-4zM1241 322h2v1h-2zM687 323h1v1h-1zM981 323h1v1h-1zM1193 323h6v1h-6zM1237 323h4v1h-4zM688 324h1v1h-1zM980 324h1v1h-1zM1199 324h8v1h-8zM1231 324h6v1h-6zM689 325h1v1h-1zM979 325h1v1h-1zM1207 325h24v1h-24zM690 326h2v1h-2zM978 326h1v1h-1zM692 327h2v1h-2zM977 327h1v1h-1zM694 328h2v1h-2zM976 328h1v1h-1zM696 329h2v1h-2zM975 329h1v1h-1zM698 330h1v1h-1zM973 330h2v1h-2zM699 331h1v1h-1zM972 331h1v1h-1zM700 332h1v1h-1zM971 332h1v1h-1zM701 333h2v1h-2zM970 333h1v1h-1zM703 334h1v1h-1zM969 334h1v1h-1zM704 335h1v1h-1zM968 335h1v1h-1zM705 336h1v1h-1zM967 336h1v1h-1zM706 337h1v1h-1zM965 337h2v1h-2zM707 338h2v1h-2zM964 338h1v1h-1zM709 339h1v1h-1zM963 339h1v1h-1zM710 340h1v1h-1zM962 340h1v1h-1zM711 341h2v1h-2zM961 341h1v1h-1zM713 342h1v1h-1zM960 342h1v1h-1zM714 343h1v1h-1zM959 343h1v1h-1zM715 344h1v1h-1zM957 344h2v1h-2zM716 345h1v1h-1zM956 345h1v1h-1zM717 346h1v1h-1zM955 346h1v1h-1zM718 347h1v1h-1zM954 347h1v1h-1zM719 348h1v1h-1zM953 348h1v1h-1zM720 349h1v1h-1zM952 349h1v1h-1zM721 350h1v1h-1zM951 350h1v1h-1zM722 351h1v1h-1zM950 351h1v2h-1zM723 352h1v1h-1zM724 353h1v1h-1zM949 353h1v1h-1zM725 354h1v1h-1zM948 354h1v1h-1zM726 355h1v1h-1zM947 355h1v1h-1zM727 356h1v1h-1zM946 356h1v1h-1zM728 357h1v1h-1zM945 357h1v1h-1zM729 358h1v1h-1zM943 358h2v1h-2zM730 359h1v1h-1zM942 359h1v1h-1zM731 360h1v1h-1zM941 360h1v1h-1zM732 361h1v1h-1zM939 361h2v1h-2zM733 362h1v1h-1zM938 362h1v1h-1zM734 363h1v2h-1zM937 363h1v1h-1zM936 364h1v1h-1zM735 365h1v1h-1zM935 365h1v1h-1zM736 366h1v1h-1zM933 366h2v1h-2zM737 367h1v1h-1zM932 367h1v1h-1zM738 368h1v1h-1zM931 368h1v1h-1zM739 369h1v1h-1zM930 369h1v1h-1zM740 370h1v1h-1zM929 370h1v1h-1zM741 371h2v1h-2zM927 371h2v1h-2zM743 372h1v1h-1zM926 372h1v1h-1zM744 373h1v1h-1zM925 373h1v1h-1zM745 374h1v1h-1zM923 374h2v1h-2zM746 375h2v1h-2zM922 375h1v1h-1zM748 376h2v1h-2zM921 376h1v1h-1zM750 377h2v1h-2zM920 377h1v1h-1zM752 378h2v1h-2zM919 378h1v1h-1zM754 379h5v1h-5zM917 379h2v1h-2zM759 380h6v1h-6zM916 380h1v1h-1zM765 381h4v1h-4zM915 381h1v1h-1zM769 382h2v1h-2zM914 382h1v1h-1zM771 383h2v1h-2zM912 383h2v1h-2zM773 384h2v1h-2zM910 384h2v1h-2zM775 385h1v1h-1zM908 385h2v1h-2zM776 386h2v1h-2zM906 386h2v1h-2zM778 387h1v1h-1zM904 387h2v1h-2zM779 388h1v1h-1zM903 388h1v1h-1zM780 389h1v1h-1zM901 389h2v1h-2zM781 390h2v1h-2zM899 390h2v1h-2zM783 391h1v1h-1zM898 391h1v1h-1zM784 392h1v1h-1zM896 392h2v1h-2zM785 393h1v1h-1zM895 393h1v1h-1zM786 394h1v1h-1zM893 394h2v1h-2zM787 395h2v1h-2zM891 395h2v1h-2zM789 396h2v1h-2zM890 396h1v1h-1zM791 397h1v1h-1zM889 397h1v1h-1zM792 398h2v1h-2zM887 398h2v1h-2zM794 399h2v1h-2zM886 399h1v1h-1zM796 400h2v1h-2zM885 400h1v1h-1zM798 401h2v1h-2zM883 401h2v1h-2zM800 402h2v1h-2zM882 402h1v1h-1zM802 403h2v1h-2zM880 403h2v1h-2zM804 404h2v1h-2zM878 404h2v1h-2zM806 405h2v1h-2zM876 405h2v1h-2zM808 406h2v1h-2zM874 406h2v1h-2zM810 407h1v1h-1zM872 407h2v1h-2zM811 408h1v1h-1zM870 408h2v1h-2zM812 409h1v1h-1zM868 409h2v1h-2zM813 410h2v1h-2zM863 410h5v1h-5zM815 411h1v1h-1zM855 411h8v1h-8zM816 412h1v1h-1zM847 412h8v1h-8zM817 413h1v1h-1zM831 413h16v1h-16zM818 414h13v1h-13z"/>
<g shape-rendering="crispEdges">
<rect x="10" y="603" width="1" height="12" fill="#c0c0c0"/>
<rect x="18" y="603" width="1" height="20" fill="#c0c0c0"/>
<rect x="26" y="603" width="1" height="25" fill="#c0c0c0"/>
<rect x="34" y="603" width="1" height="28" fill="#c0c0c0"/>
<rect x="42" y="603" width="1" height="31" fill="#c0c0c0"/>
<rect x="50" y="603" width="1" height="36" fill="#c0c0c0"/>
<rect x="58" y="603" width="1" height="41" fill="#c0c0c0"/>
<rect x="66" y="603" width="1" height="43" fill="#c0c0c0"/>
<rect x="74" y="603" width="1" height="45" fill="#c0c0c0"/>
<rect x="82" y="603" width="1" height="47" fill="#c0c0c0"/>
<rect x="90" y="603" width="1" height="45" fill="#c0c0c0"/>
<rect x="98" y="603" width="1" height="41" fill="#c0c0c0"/>
<rect x="106" y="603" width="1" height="39" fill="#c0c0c0"/>
<rect x="114" y="603" width="1" height="36" fill="#c0c0c0"/>
<rect x="122" y="603" width="1" height="35" fill="#c0c0c0"/>
<rect x="130" y="603" width="1" height="31" fill="#c0c0c0"/>
<rect x="138" y="603" width="1" height="26" fill="#c0c0c0"/>
<rect x="146" y="603" width="1" height="23" fill="#c0c0c0"/>
<rect x="154" y="603" width="1" height="24" fill="#c0c0c0"/>
<rect x="162" y="603" width="1" height="25" fill="#c0c0c0"/>
<rect x="170" y="603" width="1" height="28" fill="#c0c0c0"/>
<rect x="178" y="603" width="1" height="27" fill="#c0c0c0"/>
<rect x="186" y="603" width="1" height="27" fill="#c0c0c0"/>
<rect x="194" y="603" width="1" height="26" fill="#c0c0c0"/>
<rect x="202" y="603" width="1" height="23" fill="#c0c0c0"/>
<rect x="210" y="603" width="1" height="22" fill="#c0c0c0"/>
<rect x="218" y="603" width="1" height="20" fill="#c0c0c0"/>
<rect x="226" y="603" width="1" height="20" fill="#c0c0c0"/>
<rect x="234" y="603" width="1" height="20" fill="#c0c0c0"/>
<rect x="242" y="603" width="1" height="22" fill="#c0c0c0"/>
<rect x="250" y="603" width="1" height="13" fill="#c0c0c0"/>
<rect x="258" y="603" width="1" height="6" fill="#c0c0c0"/>
<rect x="266" y="603" width="1" height="1" fill="#c0c0c0"/>
<rect x="274" y="601" width="1" height="3" fill="#c0c0c0"/>
<rect x="282" y="599" width="1" height="5" fill="#c0c0c0"/>
<rect x="290" y="598" width="1" height="6" fill="#c0c0c0"/>
<rect x="298" y="601" width="1" height="3" fill="#c0c0c0"/>
<rect x="306" y="603" width="1" height="1" fill="#c0c0c0"/>
<rect x="314" y="603" width="1" height="1" fill="#c0c0c0"/>
<rect x="322" y="603" width="1" height="3" fill="#c0c0c0"/>
<rect x="330" y="603" width="1" height="8" fill="#c0c0c0"/>
<rect x="338" y="603" width="1" height="20" fill="#c0c0c0"/>
<rect x="346" y="603" width="1" height="38" fill="#c0c0c0"/>
<rect x="354" y="603" width="1" height="52" fill="#c0c0c0"/>
<rect x="362" y="603" width="1" height="62" fill="#c0c0c0"/>
<rect x="370" y="603" width="1" height="67" fill="#c0c0c0"/>
<rect x="378" y="603" width="1" height="69" fill="#c0c0c0"/>
<rect x="386" y="603" width="1" height="70" fill="#c0c0c0"/>
<rect x="394" y="603" width="1" height="74" fill="#c0c0c0"/>
<rect x="402" y="603" width="1" height="76" fill="#c0c0c0"/>
<rect x="410" y="603" width="1" height="77" fill="#c0c0c0"/>
<rect x="418" y="603" width="1" height="80" fill="#c0c0c0"/>
<rect x="426" y="603" width="1" height="78" fill="#c0c0c0"/>
<rect x="434" y="603" width="1" height="74" fill="#c0c0c0"/>
<rect x="442" y="603" width="1" height="67" fill="#c0c0c0"/>
<rect x="450" y="603" width="1" height="60" fill="#c0c0c0"/>
<rect x="458" y="603" width="1" height="53" fill="#c0c0c0"/>
<rect x="466" y="603" width="1" height="49" fill="#c0c0c0"/>
<rect x="474" y="603" width="1" height="45" fill="#c0c0c0"/>
<rect x="482" y="603" width="1" height="38" fill="#c0c0c0"/>
<rect x="490" y="603" width="1" height="27" fill="#c0c0c0"/>
<rect x="498" y="603" width="1" height="20" fill="#c0c0c0"/>
<rect x="506" y="603" width="1" height="13" fill="#c0c0c0"/>
<rect x="514" y="603" width="1" height="7" fill="#c0c0c0"/>
<rect x="522" y="603" width="1" height="2" fill="#c0c0c0"/>
<rect x="530" y="603" width="1" height="1" fill="#c0c0c0"/>
<rect x="538" y="601" width="1" height="3" fill="#c0c0c0"/>
<rect x="546" y="603" width="1" height="1" fill="#c0c0c0"/>
<rect x="554" y="603" width="1" height="1" fill="#c0c0c0"/>
<rect x="562" y="603" width="1" height="5" fill="#c0c0c0"/>
<rect x="570" y="603" width="1" height="6" fill="#c0c0c0"/>
<rect x="578" y="603" width="1" height="2" fill="#c0c0c0"/>
<rect x="586" y="603" width="1" height="13" fill="#c0c0c0"/>
<rect x="594" y="603" width="1" height="21" fill="#c0c0c0"/>
<rect x="602" y="603" width="1" height="29" fill="#c0c0c0"/>
<rect x="610" y="603" width="1" height="32" fill="#c0c0c0"/>
<rect x="618" y="603" width="1" height="32" fill="#c0c0c0"/>
<rect x="626" y="603" width="1" height="35" fill="#c0c0c0"/>
<rect x="634" y="603" width="1" height="35" fill="#c0c0c0"/>
<rect x="642" y="603" width="1" height="38" fill="#c0c0c0"/>
<rect x="650" y="603" width="1" height="38" fill="#c0c0c0"/>
<rect x="658" y="603" width="1" height="34" fill="#c0c0c0"/>
<rect x="666" y="603" width="1" height="31" fill="#c0c0c0"/>
<rect x="674" y="603" width="1" height="32" fill="#c0c0c0"/>
<rect x="682" y="603" width="1" height="32" fill="#c0c0c0"/>
<rect x="690" y="603" width="1" height="31" fill="#c0c0c0"/>
<rect x="698" y="603" width="1" height="30" fill="#c0c0c0"/>
<rect x="706" y="603" width="1" height="29" fill="#c0c0c0"/>
<rect x="714" y="603" width="1" height="32" fill="#c0c0c0"/>
<rect x="722" y="603" width="1" height="38" fill="#c0c0c0"/>
<rect x="730" y="603" width="1" height="41" fill="#c0c0c0"/>
<rect x="738" y="603" width="1" height="45" fill="#c0c0c0"/>
<rect x="746" y="603" width="1" height="47" fill="#c0c0c0"/>
<rect x="754" y="603" width="1" height="45" fill="#c0c0c0"/>
<rect x="762" y="603" width="1" height="43" fill="#c0c0c0"/>
<rect x="770" y="603" width="1" height="39" fill="#c0c0c0"/>
<rect x="778" y="603" width="1" height="42" fill="#c0c0c0"/>
<rect x="786" y="603" width="1" height="47" fill="#c0c0c0"/>
<rect x="794" y="603" width="1" height="49" fill="#c0c0c0"/>
<rect x="802" y="603" width="1" height="47" fill="#c0c0c0"/>
<rect x="810" y="603" width="1" height="46" fill="#c0c0c0"/>
<rect x="818" y="603" width="1" height="48" fill="#c0c0c0"/>
<rect x="826" y="603" width="1" height="32" fill="#c0c0c0"/>
<rect x="834" y="603" width="1" height="20" fill="#c0c0c0"/>
<rect x="842" y="603" width="1" height="12" fill="#c0c0c0"/>
<rect x="850" y="603" width="1" height="5" fill="#c0c0c0"/>
<rect x="866" y="599" width="1" height="5" fill="#c0c0c0"/>
<rect x="874" y="592" width="1" height="12" fill="#c0c0c0"/>
<rect x="882" y="588" width="1" height="16" fill="#c0c0c0"/>
<rect x="890" y="582" width="1" height="22" fill="#c0c0c0"/>
<rect x="898" y="581" width="1" height="23" fill="#c0c0c0"/>
<rect x="906" y="582" width="1" height="22" fill="#c0c0c0"/>
<rect x="914" y="584" width="1" height="20" fill="#c0c0c0"/>
<rect x="922" y="579" width="1" height="25" fill="#c0c0c0"/>
<rect x="930" y="574" width="1" height="30" fill="#c0c0c0"/>
<rect x="938" y="571" width="1" height="33" fill="#c0c0c0"/>
<rect x="946" y="573" width="1" height="31" fill="#c0c0c0"/>
<rect x="954" y="575" width="1" height="29" fill="#c0c0c0"/>
<rect x="962" y="577" width="1" height="27" fill="#c0c0c0"/>
<rect x="970" y="579" width="1" height="25" fill="#c0c0c0"/>
<rect x="978" y="581" width="1" height="23" fill="#c0c0c0"/>
<rect x="986" y="582" width="1" height="22" fill="#c0c0c0"/>
<rect x="994" y="586" width="1" height="18" fill="#c0c0c0"/>
<rect x="1002" y="593" width="1" height="11" fill="#c0c0c0"/>
<rect x="1010" y="595" width="1" height="9" fill="#c0c0c0"/>
<rect x="1018" y="593" width="1" height="11" fill="#c0c0c0"/>
<rect x="1026" y="590" width="1" height="14" fill="#c0c0c0"/>
<rect x="1034" y="588" width="1" height="16" fill="#c0c0c0"/>
<rect x="1042" y="588" width="1" height="16" fill="#c0c0c0"/>
<rect x="1050" y="587" width="1" height="17" fill="#c0c0c0"/>
<rect x="1058" y="588" width="1" height="16" fill="#c0c0c0"/>
<rect x="1066" y="590" width="1" height="14" fill="#c0c0c0"/>
<rect x="1074" y="594" width="1" height="10" fill="#c0c0c0"/>
<rect x="1082" y="597" width="1" height="7" fill="#c0c0c0"/>
<rect x="1090" y="597" width="1" height="7" fill="#c0c0c0"/>
<rect x="1098" y="599" width="1" height="5" fill="#c0c0c0"/>
<rect x="1106" y="598" width="1" height="6" fill="#c0c0c0"/>
<rect x="1114" y="598" width="1" height="6" fill="#c0c0c0"/>
<rect x="1122" y="599" width="1" height="5" fill="#c0c0c0"/>
<rect x="1130" y="602" width="1" height="2" fill="#c0c0c0"/>
<rect x="1154" y="603" width="1" height="2" fill="#c0c0c0"/>
<rect x="1170" y="603" width="1" height="3" fill="#c0c0c0"/>
<rect x="1178" y="603" width="1" height="5" fill="#c0c0c0"/>
<rect x="1186" y="603" width="1" height="2" fill="#c0c0c0"/>
<rect x="1194" y="602" width="1" height="2" fill="#c0c0c0"/>
<rect x="1210" y="602" width="1" height="2" fill="#c0c0c0"/>
<rect x="1218" y="600" width="1" height="4" fill="#c0c0c0"/>
<rect x="1226" y="600" width="1" height="4" fill="#c0c0c0"/>
<rect x="1234" y="598" width="1" height="6" fill="#c0c0c0"/>
<rect x="1242" y="596" width="1" height="8" fill="#c0c0c0"/>
<rect x="1250" y="589" width="1" height="15" fill="#c0c0c0"/>
<rect x="1258" y="573" width="1" height="31" fill="#c0c0c0"/>
<rect x="1266" y="562" width="1" height="42" fill="#c0c0c0"/>
<rect x="1274" y="554" width="1" height="50" fill="#c0c0c0"/>
<rect x="1282" y="550" width="1" height="54" fill="#c0c0c0"/>
<rect x="1290" y="545" width="1" height="59" fill="#c0c0c0"/>
<rect x="1298" y="541" width="1" height="63" fill="#c0c0c0"/>
<rect x="1306" y="537" width="1" height="67" fill="#c0c0c0"/>
<rect x="1314" y="535" width="1" height="69" fill="#c0c0c0"/>
<rect x="1322" y="535" width="1" height="69" fill="#c0c0c0"/>
<rect x="1330" y="536" width="1" height="68" fill="#c0c0c0"/>
</g>
<path shape-rendering="crispEdges" fill="#ff0000" d="M1328 544h1v1h-1zM1326 545h2v1h-2zM1322 547h1v1h-1zM1321 548h1v1h-1zM1320 549h1v1h-1zM1315 552h2v1h-2zM1314 553h1v1h-1zM1309 557h2v1h-2zM1308 558h1v1h-1zM1304 562h1v1h-1zM1303 563h1v1h-1zM1302 564h1v1h-1zM1298 567h1v1h-1zM1296 568h2v1h-2zM1291 571h2v1h-2zM1290 572h1v1h-1zM967 576h2v1h-2zM972 576h3v1h-3zM978 576h3v1h-3zM984 576h3v1h-3zM990 576h1v1h-1zM1285 576h2v1h-2zM954 577h3v1h-3zM960 577h3v1h-3zM966 577h1v1h-1zM991 577h2v1h-2zM996 577h1v1h-1zM1284 577h1v1h-1zM948 578h3v1h-3zM997 578h2v1h-2zM943 579h2v1h-2zM1002 579h2v1h-2zM942 580h1v1h-1zM1004 580h1v1h-1zM2 581h2v1h-2zM938 581h1v1h-1zM1008 581h1v1h-1zM1279 581h2v1h-2zM4 582h1v1h-1zM936 582h2v1h-2zM1009 582h2v1h-2zM1278 582h1v1h-1zM1014 583h3v1h-3zM8 584h2v1h-2zM932 584h1v1h-1zM1020 584h1v1h-1zM10 585h1v1h-1zM930 585h2v1h-2zM1021 585h2v1h-2zM1274 585h1v1h-1zM925 586h2v1h-2zM1026 586h3v1h-3zM1272 586h2v1h-2zM924 587h1v1h-1zM1032 587h3v1h-3zM1038 587h1v1h-1zM14 588h1v1h-1zM920 588h1v1h-1zM1039 588h2v1h-2zM1044 588h3v1h-3zM1050 588h3v1h-3zM15 589h2v1h-2zM918 589h2v1h-2zM1056 589h3v1h-3zM1062 589h3v1h-3zM1068 589h3v1h-3zM1267 589h2v1h-2zM1074 590h3v1h-3zM1080 590h3v1h-3zM1086 590h3v1h-3zM1092 590h3v1h-3zM1266 590h1v1h-1zM913 591h2v1h-2zM1098 591h3v1h-3zM20 592h1v1h-1zM912 592h1v1h-1zM1104 592h3v1h-3zM1110 592h1v1h-1zM21 593h1v1h-1zM908 593h1v1h-1zM1111 593h2v1h-2zM1116 593h3v1h-3zM1262 593h1v1h-1zM22 594h1v1h-1zM906 594h2v1h-2zM1122 594h3v1h-3zM1261 594h1v1h-1zM1128 595h3v1h-3zM1260 595h1v1h-1zM902 596h1v1h-1zM1134 596h1v1h-1zM26 597h1v1h-1zM900 597h2v1h-2zM1135 597h2v1h-2zM1256 597h1v1h-1zM27 598h2v1h-2zM1140 598h3v1h-3zM1254 598h2v1h-2zM1146 599h3v1h-3zM896 600h1v1h-1zM1152 600h3v1h-3zM1158 600h1v1h-1zM1249 600h2v1h-2zM32 601h1v1h-1zM895 601h1v1h-1zM1159 601h2v1h-2zM1164 601h3v1h-3zM1248 601h1v1h-1zM33 602h1v1h-1zM319 602h3v1h-3zM325 602h2v1h-2zM894 602h1v1h-1zM1170 602h3v1h-3zM1242 602h3v1h-3zM34 603h1v1h-1zM313 603h3v1h-3zM327 603h1v1h-1zM331 603h2v1h-2zM1176 603h3v1h-3zM1182 603h1v1h-1zM1231 603h2v1h-2zM1236 603h3v1h-3zM333 604h1v1h-1zM1183 604h2v1h-2zM1188 604h3v1h-3zM1218 604h3v1h-3zM1224 604h3v1h-3zM1230 604h1v1h-1zM38 605h1v1h-1zM308 605h2v1h-2zM337 605h3v1h-3zM576 605h3v1h-3zM582 605h1v1h-1zM890 605h1v1h-1zM1194 605h3v1h-3zM1200 605h3v1h-3zM1206 605h3v1h-3zM1212 605h3v1h-3zM39 606h1v1h-1zM307 606h1v1h-1zM570 606h3v1h-3zM583 606h2v1h-2zM588 606h3v1h-3zM889 606h1v1h-1zM40 607h1v1h-1zM301 607h3v1h-3zM343 607h1v1h-1zM565 607h2v1h-2zM594 607h2v1h-2zM888 607h1v1h-1zM297 608h1v1h-1zM344 608h2v1h-2zM564 608h1v1h-1zM596 608h1v1h-1zM295 609h2v1h-2zM559 609h2v1h-2zM600 609h1v1h-1zM44 610h1v1h-1zM558 610h1v1h-1zM601 610h2v1h-2zM45 611h1v1h-1zM289 611h3v1h-3zM554 611h1v1h-1zM884 611h1v1h-1zM46 612h1v1h-1zM349 612h2v1h-2zM552 612h2v1h-2zM606 612h1v1h-1zM883 612h1v1h-1zM284 613h2v1h-2zM351 613h1v1h-1zM607 613h1v1h-1zM882 613h1v1h-1zM283 614h1v1h-1zM548 614h1v1h-1zM608 614h1v1h-1zM277 615h3v1h-3zM546 615h2v1h-2zM49 616h1v1h-1zM612 616h2v1h-2zM878 616h1v1h-1zM50 617h1v1h-1zM272 617h2v1h-2zM355 617h1v1h-1zM614 617h1v1h-1zM877 617h1v1h-1zM51 618h1v1h-1zM271 618h1v1h-1zM356 618h1v1h-1zM541 618h2v1h-2zM876 618h1v1h-1zM357 619h1v1h-1zM540 619h1v1h-1zM618 619h2v1h-2zM265 620h3v1h-3zM620 620h1v1h-1zM55 621h2v1h-2zM261 621h1v1h-1zM872 621h1v1h-1zM57 622h1v1h-1zM259 622h2v1h-2zM361 622h1v1h-1zM535 622h2v1h-2zM624 622h2v1h-2zM871 622h1v1h-1zM253 623h3v1h-3zM362 623h1v1h-1zM534 623h1v1h-1zM626 623h1v1h-1zM870 623h1v1h-1zM249 624h1v1h-1zM363 624h1v1h-1zM630 624h1v1h-1zM61 625h2v1h-2zM247 625h2v1h-2zM631 625h2v1h-2zM63 626h1v1h-1zM241 626h3v1h-3zM530 626h1v1h-1zM866 626h1v1h-1zM223 627h3v1h-3zM229 627h3v1h-3zM235 627h3v1h-3zM529 627h1v1h-1zM636 627h2v1h-2zM865 627h1v1h-1zM199 628h3v1h-3zM205 628h3v1h-3zM211 628h3v1h-3zM217 628h3v1h-3zM367 628h1v1h-1zM528 628h1v1h-1zM638 628h1v1h-1zM864 628h1v1h-1zM67 629h1v1h-1zM193 629h3v1h-3zM368 629h1v1h-1zM68 630h1v1h-1zM189 630h1v1h-1zM369 630h1v1h-1zM642 630h2v1h-2zM69 631h1v1h-1zM177 631h1v1h-1zM181 631h3v1h-3zM187 631h2v1h-2zM523 631h2v1h-2zM644 631h1v1h-1zM859 631h2v1h-2zM175 632h2v1h-2zM522 632h1v1h-1zM648 632h1v1h-1zM858 632h1v1h-1zM169 633h3v1h-3zM649 633h2v1h-2zM73 634h1v1h-1zM165 634h1v1h-1zM373 634h1v1h-1zM654 634h1v1h-1zM74 635h2v1h-2zM163 635h2v1h-2zM374 635h1v1h-1zM518 635h1v1h-1zM655 635h2v1h-2zM714 635h3v1h-3zM720 635h3v1h-3zM726 635h1v1h-1zM853 635h2v1h-2zM157 636h3v1h-3zM375 636h1v1h-1zM517 636h1v1h-1zM660 636h3v1h-3zM696 636h3v1h-3zM702 636h3v1h-3zM708 636h3v1h-3zM727 636h2v1h-2zM732 636h3v1h-3zM852 636h1v1h-1zM79 637h1v1h-1zM153 637h1v1h-1zM516 637h1v1h-1zM666 637h3v1h-3zM672 637h3v1h-3zM678 637h3v1h-3zM684 637h3v1h-3zM690 637h3v1h-3zM738 637h3v1h-3zM80 638h2v1h-2zM151 638h2v1h-2zM744 638h1v1h-1zM848 638h1v1h-1zM85 639h2v1h-2zM145 639h3v1h-3zM745 639h2v1h-2zM750 639h1v1h-1zM846 639h2v1h-2zM87 640h1v1h-1zM91 640h1v1h-1zM379 640h1v1h-1zM511 640h2v1h-2zM751 640h2v1h-2zM756 640h1v1h-1zM92 641h2v1h-2zM140 641h2v1h-2zM380 641h1v1h-1zM510 641h1v1h-1zM757 641h2v1h-2zM842 641h1v1h-1zM139 642h1v1h-1zM381 642h1v1h-1zM762 642h3v1h-3zM840 642h2v1h-2zM97 643h3v1h-3zM133 643h3v1h-3zM768 643h3v1h-3zM774 643h1v1h-1zM103 644h3v1h-3zM109 644h2v1h-2zM127 644h3v1h-3zM506 644h1v1h-1zM775 644h2v1h-2zM780 644h1v1h-1zM836 644h1v1h-1zM111 645h1v1h-1zM115 645h3v1h-3zM121 645h3v1h-3zM505 645h1v1h-1zM781 645h2v1h-2zM834 645h2v1h-2zM385 646h1v1h-1zM504 646h1v1h-1zM786 646h3v1h-3zM829 646h2v1h-2zM386 647h1v1h-1zM792 647h3v1h-3zM798 647h1v1h-1zM823 647h2v1h-2zM828 647h1v1h-1zM387 648h1v1h-1zM799 648h2v1h-2zM804 648h3v1h-3zM810 648h3v1h-3zM816 648h3v1h-3zM822 648h1v1h-1zM501 650h1v1h-1zM391 651h1v1h-1zM500 651h1v1h-1zM392 652h1v1h-1zM499 652h1v1h-1zM393 653h1v1h-1zM495 655h1v1h-1zM493 656h2v1h-2zM397 657h1v1h-1zM398 658h1v1h-1zM399 659h1v1h-1zM488 659h2v1h-2zM487 660h1v1h-1zM483 662h1v1h-1zM403 663h2v1h-2zM482 663h1v1h-1zM405 664h1v1h-1zM481 664h1v1h-1zM477 666h1v1h-1zM409 667h1v1h-1zM475 667h2v1h-2zM410 668h1v1h-1zM411 669h1v1h-1zM471 669h1v1h-1zM469 670h2v1h-2zM415 671h1v1h-1zM465 671h1v1h-1zM416 672h2v1h-2zM463 672h2v1h-2zM421 674h2v1h-2zM457 674h3v1h-3zM423 675h1v1h-1zM453 675h1v1h-1zM427 676h3v1h-3zM447 676h1v1h-1zM451 676h2v1h-2zM433 677h3v1h-3zM439 677h3v1h-3zM445 677h2v1h-2z"/>
<g shape-rendering="crispEdges">
<line x1="3" y1="731.5" x2="1682" y2="731.5" stroke="#c0c0c0" stroke-width="1" stroke-dasharray="3 3"/>
<line x1="3" y1="781.5" x2="1682" y2="781.5" stroke="#c0c0c0" stroke-width="1" stroke-dasharray="3 3"/>
</g>
<path shape-rendering="crispEdges" fill="#1e90ff" d="M1258 721h2v1h-2zM1257 722h1v2h-1zM1260 722h2v1h-2zM1262 723h2v1h-2zM1256 724h1v2h-1zM1264 724h2v1h-2zM1266 725h5v1h-5zM1305 725h3v1h-3zM1255 726h1v2h-1zM1271 726h4v1h-4zM1301 726h4v1h-4zM1308 726h3v1h-3zM1275 727h2v1h-2zM1295 727h6v1h-6zM1311 727h2v1h-2zM1254 728h1v1h-1zM1277 728h2v1h-2zM1289 728h6v1h-6zM1313 728h6v1h-6zM1253 729h1v2h-1zM1279 729h1v1h-1zM1287 729h2v1h-2zM1319 729h11v1h-11zM1280 730h2v1h-2zM1284 730h3v1h-3zM1252 731h1v2h-1zM1282 731h2v1h-2zM1251 733h1v2h-1zM1250 735h1v1h-1zM1249 736h1v1h-1zM1248 737h1v2h-1zM1247 739h1v1h-1zM1246 740h1v1h-1zM929 741h10v1h-10zM1245 741h1v1h-1zM890 742h1v1h-1zM925 742h4v1h-4zM939 742h1v1h-1zM1244 742h1v2h-1zM874 743h2v1h-2zM888 743h2v1h-2zM891 743h2v1h-2zM922 743h3v1h-3zM940 743h1v1h-1zM872 744h2v1h-2zM876 744h3v1h-3zM886 744h2v1h-2zM893 744h2v1h-2zM921 744h1v1h-1zM941 744h1v1h-1zM1243 744h1v1h-1zM250 745h5v1h-5zM826 745h3v1h-3zM871 745h1v1h-1zM879 745h2v1h-2zM884 745h2v1h-2zM895 745h1v1h-1zM920 745h1v2h-1zM942 745h1v2h-1zM1242 745h1v1h-1zM250 746h1v1h-1zM255 746h6v1h-6zM826 746h1v1h-1zM829 746h4v1h-4zM869 746h2v1h-2zM881 746h3v1h-3zM896 746h2v1h-2zM1240 746h2v1h-2zM249 747h1v4h-1zM261 747h4v1h-4zM490 747h3v1h-3zM513 747h6v1h-6zM825 747h1v4h-1zM833 747h4v1h-4zM867 747h2v1h-2zM898 747h1v1h-1zM919 747h1v1h-1zM943 747h1v1h-1zM1025 747h6v1h-6zM1050 747h1v1h-1zM1238 747h2v1h-2zM265 748h12v1h-12zM489 748h1v1h-1zM493 748h4v1h-4zM511 748h2v1h-2zM519 748h4v1h-4zM538 748h1v1h-1zM837 748h4v1h-4zM847 748h8v1h-8zM863 748h4v1h-4zM899 748h2v1h-2zM918 748h1v1h-1zM944 748h1v1h-1zM1021 748h4v1h-4zM1031 748h4v1h-4zM1049 748h1v1h-1zM1051 748h2v1h-2zM1236 748h2v1h-2zM277 749h4v1h-4zM488 749h1v1h-1zM497 749h6v1h-6zM508 749h3v1h-3zM523 749h2v1h-2zM537 749h1v1h-1zM539 749h1v2h-1zM841 749h6v1h-6zM855 749h8v1h-8zM901 749h1v1h-1zM917 749h1v1h-1zM945 749h1v1h-1zM1018 749h3v1h-3zM1035 749h2v1h-2zM1047 749h2v1h-2zM1053 749h2v1h-2zM1202 749h3v1h-3zM1233 749h3v1h-3zM281 750h10v1h-10zM487 750h1v1h-1zM503 750h5v1h-5zM525 750h1v1h-1zM535 750h2v1h-2zM902 750h1v1h-1zM916 750h1v2h-1zM946 750h5v1h-5zM970 750h5v1h-5zM1017 750h1v1h-1zM1037 750h2v1h-2zM1046 750h1v1h-1zM1055 750h1v1h-1zM1201 750h1v1h-1zM1205 750h4v1h-4zM1215 750h6v1h-6zM1231 750h2v1h-2zM248 751h1v3h-1zM291 751h1v2h-1zM486 751h1v2h-1zM526 751h1v1h-1zM534 751h1v1h-1zM540 751h1v1h-1zM824 751h1v3h-1zM903 751h2v1h-2zM951 751h5v1h-5zM968 751h2v1h-2zM975 751h8v1h-8zM1016 751h1v1h-1zM1039 751h1v1h-1zM1045 751h1v1h-1zM1056 751h2v1h-2zM1106 751h2v1h-2zM1200 751h1v1h-1zM1209 751h6v1h-6zM1221 751h4v1h-4zM1228 751h3v1h-3zM527 752h2v1h-2zM533 752h1v1h-1zM541 752h1v1h-1zM905 752h1v1h-1zM915 752h1v1h-1zM956 752h3v1h-3zM966 752h2v1h-2zM983 752h5v1h-5zM1015 752h1v1h-1zM1040 752h2v1h-2zM1043 752h2v1h-2zM1058 752h2v1h-2zM1105 752h1v1h-1zM1108 752h2v1h-2zM1199 752h1v1h-1zM1225 752h3v1h-3zM292 753h1v1h-1zM485 753h1v1h-1zM529 753h1v1h-1zM531 753h2v1h-2zM542 753h1v2h-1zM578 753h1v2h-1zM906 753h9v1h-9zM959 753h2v1h-2zM964 753h2v1h-2zM988 753h2v1h-2zM1014 753h1v1h-1zM1042 753h1v1h-1zM1060 753h2v1h-2zM1104 753h1v1h-1zM1110 753h2v1h-2zM1197 753h2v1h-2zM247 754h1v3h-1zM293 754h1v1h-1zM484 754h1v1h-1zM530 754h1v1h-1zM577 754h1v1h-1zM823 754h1v4h-1zM961 754h3v1h-3zM990 754h2v1h-2zM1013 754h1v1h-1zM1062 754h2v1h-2zM1090 754h2v1h-2zM1103 754h1v1h-1zM1112 754h2v1h-2zM1186 754h3v1h-3zM1196 754h1v1h-1zM138 755h1v1h-1zM294 755h1v2h-1zM483 755h1v1h-1zM543 755h1v1h-1zM576 755h1v1h-1zM579 755h1v2h-1zM992 755h2v1h-2zM1012 755h1v1h-1zM1064 755h2v1h-2zM1088 755h2v1h-2zM1092 755h2v1h-2zM1101 755h2v1h-2zM1114 755h5v1h-5zM1185 755h1v1h-1zM1189 755h4v1h-4zM1195 755h1v1h-1zM136 756h2v1h-2zM139 756h2v1h-2zM482 756h1v1h-1zM544 756h1v1h-1zM575 756h1v1h-1zM994 756h1v1h-1zM1011 756h1v1h-1zM1066 756h2v1h-2zM1087 756h1v1h-1zM1094 756h2v1h-2zM1100 756h1v1h-1zM1119 756h4v1h-4zM1162 756h1v1h-1zM1184 756h1v1h-1zM1193 756h2v1h-2zM135 757h1v1h-1zM141 757h2v1h-2zM246 757h1v4h-1zM295 757h1v1h-1zM481 757h1v1h-1zM545 757h1v2h-1zM573 757h2v1h-2zM580 757h1v2h-1zM658 757h1v1h-1zM995 757h1v1h-1zM1010 757h1v1h-1zM1068 757h3v1h-3zM1085 757h2v1h-2zM1096 757h2v1h-2zM1099 757h1v1h-1zM1123 757h2v1h-2zM1145 757h3v1h-3zM1160 757h2v1h-2zM1163 757h2v1h-2zM1183 757h1v1h-1zM133 758h2v1h-2zM143 758h1v1h-1zM202 758h2v1h-2zM296 758h1v1h-1zM480 758h1v2h-1zM572 758h1v1h-1zM657 758h1v1h-1zM659 758h2v1h-2zM822 758h1v3h-1zM996 758h1v1h-1zM1009 758h1v1h-1zM1071 758h2v1h-2zM1083 758h2v1h-2zM1098 758h1v1h-1zM1125 758h2v1h-2zM1141 758h4v1h-4zM1148 758h3v1h-3zM1158 758h2v1h-2zM1165 758h2v1h-2zM1181 758h2v1h-2zM131 759h2v1h-2zM144 759h2v1h-2zM201 759h1v1h-1zM204 759h3v1h-3zM297 759h1v2h-1zM313 759h3v1h-3zM546 759h3v1h-3zM571 759h1v1h-1zM581 759h1v2h-1zM656 759h1v2h-1zM661 759h2v1h-2zM997 759h1v1h-1zM1008 759h1v1h-1zM1073 759h10v1h-10zM1127 759h1v1h-1zM1137 759h4v1h-4zM1151 759h2v1h-2zM1156 759h2v1h-2zM1167 759h1v1h-1zM1180 759h1v1h-1zM130 760h1v1h-1zM146 760h1v1h-1zM200 760h1v1h-1zM207 760h2v1h-2zM309 760h4v1h-4zM316 760h2v1h-2zM479 760h1v1h-1zM549 760h4v1h-4zM570 760h1v1h-1zM663 760h1v1h-1zM998 760h1v2h-1zM1007 760h1v1h-1zM1128 760h2v1h-2zM1133 760h4v1h-4zM1153 760h3v1h-3zM1168 760h2v1h-2zM1179 760h1v1h-1zM128 761h2v1h-2zM147 761h2v1h-2zM199 761h1v1h-1zM209 761h11v1h-11zM245 761h1v3h-1zM298 761h11v1h-11zM318 761h2v1h-2zM457 761h3v1h-3zM478 761h1v1h-1zM553 761h3v1h-3zM568 761h2v1h-2zM582 761h1v3h-1zM655 761h1v1h-1zM664 761h2v1h-2zM821 761h1v4h-1zM1006 761h1v1h-1zM1130 761h3v1h-3zM1170 761h9v1h-9zM98 762h1v1h-1zM127 762h1v1h-1zM149 762h1v1h-1zM198 762h1v2h-1zM220 762h3v1h-3zM320 762h2v1h-2zM453 762h4v1h-4zM460 762h3v1h-3zM477 762h1v1h-1zM556 762h3v1h-3zM566 762h2v1h-2zM654 762h1v1h-1zM666 762h2v1h-2zM770 762h1v1h-1zM999 762h1v1h-1zM1005 762h1v1h-1zM97 763h1v1h-1zM99 763h1v1h-1zM114 763h3v1h-3zM125 763h2v1h-2zM150 763h1v1h-1zM223 763h2v1h-2zM322 763h1v1h-1zM449 763h4v1h-4zM463 763h2v1h-2zM476 763h1v2h-1zM559 763h2v1h-2zM564 763h2v1h-2zM653 763h1v1h-1zM668 763h2v1h-2zM681 763h6v1h-6zM695 763h6v1h-6zM768 763h2v1h-2zM771 763h1v2h-1zM1000 763h1v1h-1zM1004 763h1v1h-1zM96 764h1v2h-1zM100 764h1v1h-1zM113 764h1v1h-1zM117 764h4v1h-4zM123 764h2v1h-2zM151 764h2v1h-2zM178 764h3v1h-3zM197 764h1v1h-1zM225 764h10v1h-10zM244 764h1v3h-1zM323 764h2v1h-2zM445 764h4v1h-4zM465 764h4v1h-4zM561 764h3v1h-3zM583 764h1v2h-1zM652 764h1v2h-1zM670 764h2v1h-2zM679 764h2v1h-2zM687 764h8v1h-8zM701 764h4v1h-4zM767 764h1v1h-1zM1001 764h1v1h-1zM1003 764h1v1h-1zM101 765h2v1h-2zM111 765h2v1h-2zM121 765h2v1h-2zM153 765h1v1h-1zM177 765h1v1h-1zM181 765h4v1h-4zM196 765h1v1h-1zM235 765h1v1h-1zM325 765h1v1h-1zM442 765h3v1h-3zM469 765h4v1h-4zM475 765h1v1h-1zM617 765h3v1h-3zM672 765h2v1h-2zM676 765h3v1h-3zM705 765h2v1h-2zM765 765h2v1h-2zM772 765h1v1h-1zM820 765h1v3h-1zM1002 765h1v1h-1zM95 766h1v1h-1zM103 766h1v1h-1zM110 766h1v1h-1zM154 766h3v1h-3zM176 766h1v1h-1zM185 766h6v1h-6zM195 766h1v1h-1zM236 766h1v1h-1zM326 766h1v1h-1zM441 766h1v1h-1zM473 766h2v1h-2zM584 766h1v2h-1zM615 766h2v1h-2zM620 766h2v1h-2zM633 766h3v1h-3zM651 766h1v1h-1zM674 766h2v1h-2zM707 766h2v1h-2zM763 766h2v1h-2zM773 766h1v1h-1zM94 767h1v1h-1zM104 767h1v1h-1zM109 767h1v1h-1zM157 767h4v1h-4zM175 767h1v1h-1zM191 767h4v1h-4zM237 767h1v1h-1zM243 767h1v4h-1zM327 767h2v1h-2zM440 767h1v1h-1zM612 767h3v1h-3zM622 767h2v1h-2zM631 767h2v1h-2zM636 767h2v1h-2zM649 767h2v1h-2zM709 767h1v1h-1zM754 767h9v1h-9zM774 767h1v2h-1zM93 768h1v1h-1zM105 768h1v1h-1zM107 768h2v1h-2zM161 768h3v1h-3zM173 768h2v1h-2zM238 768h1v1h-1zM329 768h1v1h-1zM439 768h1v1h-1zM585 768h1v2h-1zM610 768h2v1h-2zM624 768h2v1h-2zM628 768h3v1h-3zM638 768h2v1h-2zM647 768h2v1h-2zM710 768h1v1h-1zM753 768h1v1h-1zM802 768h5v1h-5zM819 768h1v4h-1zM92 769h1v2h-1zM106 769h1v1h-1zM164 769h3v1h-3zM172 769h1v1h-1zM239 769h1v1h-1zM330 769h1v1h-1zM438 769h1v1h-1zM609 769h1v1h-1zM626 769h2v1h-2zM640 769h2v1h-2zM644 769h3v1h-3zM711 769h2v1h-2zM751 769h2v1h-2zM775 769h1v1h-1zM800 769h2v1h-2zM807 769h5v1h-5zM167 770h2v1h-2zM171 770h1v1h-1zM240 770h1v1h-1zM331 770h1v2h-1zM437 770h1v1h-1zM586 770h1v2h-1zM608 770h1v1h-1zM642 770h2v1h-2zM713 770h1v1h-1zM750 770h1v1h-1zM776 770h1v1h-1zM799 770h1v1h-1zM812 770h2v1h-2zM91 771h1v1h-1zM169 771h2v1h-2zM241 771h2v1h-2zM436 771h1v1h-1zM587 771h2v1h-2zM607 771h1v1h-1zM714 771h1v1h-1zM749 771h1v1h-1zM777 771h1v2h-1zM797 771h2v1h-2zM814 771h2v1h-2zM90 772h1v1h-1zM242 772h1v1h-1zM332 772h1v2h-1zM435 772h1v1h-1zM589 772h4v1h-4zM605 772h2v1h-2zM715 772h2v1h-2zM747 772h2v1h-2zM795 772h2v1h-2zM816 772h3v1h-3zM89 773h1v1h-1zM433 773h2v1h-2zM593 773h4v1h-4zM604 773h1v1h-1zM717 773h2v1h-2zM745 773h2v1h-2zM778 773h2v1h-2zM794 773h1v1h-1zM818 773h1v1h-1zM31 774h6v1h-6zM88 774h1v1h-1zM333 774h1v1h-1zM429 774h4v1h-4zM597 774h4v1h-4zM603 774h1v1h-1zM719 774h1v1h-1zM729 774h4v1h-4zM743 774h2v1h-2zM780 774h2v1h-2zM792 774h2v1h-2zM26 775h5v1h-5zM37 775h4v1h-4zM87 775h1v1h-1zM334 775h1v2h-1zM426 775h3v1h-3zM601 775h2v1h-2zM720 775h2v1h-2zM725 775h4v1h-4zM733 775h4v1h-4zM740 775h3v1h-3zM782 775h2v1h-2zM790 775h2v1h-2zM24 776h2v1h-2zM41 776h3v1h-3zM86 776h1v1h-1zM425 776h1v2h-1zM722 776h3v1h-3zM737 776h3v1h-3zM784 776h2v1h-2zM788 776h2v1h-2zM22 777h2v1h-2zM44 777h2v1h-2zM85 777h1v1h-1zM335 777h1v1h-1zM786 777h2v1h-2zM20 778h2v1h-2zM46 778h2v1h-2zM84 778h1v1h-1zM336 778h1v2h-1zM424 778h1v1h-1zM18 779h2v1h-2zM48 779h2v1h-2zM73 779h6v1h-6zM83 779h1v1h-1zM378 779h5v1h-5zM423 779h1v2h-1zM2 780h2v1h-2zM16 780h2v1h-2zM50 780h2v1h-2zM69 780h4v1h-4zM79 780h4v1h-4zM337 780h1v2h-1zM376 780h2v1h-2zM383 780h4v1h-4zM4 781h3v1h-3zM14 781h2v1h-2zM52 781h3v1h-3zM65 781h4v1h-4zM375 781h1v1h-1zM387 781h2v1h-2zM422 781h1v1h-1zM7 782h2v1h-2zM12 782h2v1h-2zM55 782h2v1h-2zM61 782h4v1h-4zM338 782h1v1h-1zM373 782h2v1h-2zM389 782h2v1h-2zM409 782h2v1h-2zM421 782h1v2h-1zM9 783h3v1h-3zM57 783h4v1h-4zM339 783h1v1h-1zM371 783h2v1h-2zM391 783h1v1h-1zM405 783h4v1h-4zM411 783h2v1h-2zM340 784h1v1h-1zM370 784h1v1h-1zM392 784h2v1h-2zM399 784h6v1h-6zM413 784h2v1h-2zM420 784h1v1h-1zM341 785h1v1h-1zM369 785h1v1h-1zM394 785h5v1h-5zM415 785h1v1h-1zM419 785h1v2h-1zM342 786h1v1h-1zM367 786h2v1h-2zM416 786h2v1h-2zM343 787h1v1h-1zM366 787h1v1h-1zM418 787h1v1h-1zM344 788h1v1h-1zM365 788h1v1h-1zM345 789h1v1h-1zM363 789h2v1h-2zM346 790h17v1h-17z"/>
<g shape-rendering="crispEdges" fill="#000">
<rect x="1" y="2" width="1682" height="1" fill="#000"/>
<rect x="1" y="523" width="1682" height="1" fill="#000"/>
<rect x="1" y="2" width="1" height="522" fill="#000"/>
<rect x="1" y="525" width="1682" height="1" fill="#000"/>
<rect x="1" y="691" width="1682" height="1" fill="#000"/>
<rect x="1" y="525" width="1" height="167" fill="#000"/>
<rect x="1" y="693" width="1682" height="1" fill="#000"/>
<rect x="1" y="818" width="1682" height="1" fill="#000"/>
<rect x="1" y="693" width="1" height="126" fill="#000"/>
<rect x="1682" y="2" width="1" height="522" fill="#000"/>
<rect x="1682" y="525" width="1" height="167" fill="#000"/>
<rect x="1682" y="693" width="1" height="126" fill="#000"/>
<rect x="1682" y="78" width="1" height="2" fill="#ff0000"/>
<rect x="1682" y="181" width="1" height="2" fill="#32cd32"/>
<rect x="1682" y="259" width="1" height="2" fill="#4169e1"/>
<rect x="1682" y="362" width="1" height="2" fill="#4169e1"/>
<rect x="1682" y="466" width="1" height="2" fill="#4169e1"/>
<rect x="1340" y="3" width="9" height="1" fill="#778899"/>
<rect x="1341" y="4" width="7" height="1" fill="#778899"/>
<rect x="1342" y="5" width="5" height="1" fill="#778899"/>
<rect x="1343" y="6" width="3" height="1" fill="#778899"/>
<rect x="1344" y="7" width="1" height="1" fill="#778899"/>
<rect x="5" y="9" width="7" height="1" fill="#000"/>
<rect x="6" y="10" width="5" height="1" fill="#000"/>
<rect x="7" y="11" width="3" height="1" fill="#000"/>
<rect x="8" y="12" width="1" height="1" fill="#000"/>
<rect x="1683" y="25" width="2" height="1" fill="#000"/>
<rect x="1683" y="58" width="2" height="1" fill="#000"/>
<rect x="1683" y="91" width="2" height="1" fill="#000"/>
<rect x="1683" y="124" width="2" height="1" fill="#000"/>
<rect x="1683" y="157" width="2" height="1" fill="#000"/>
<rect x="1683" y="190" width="2" height="1" fill="#000"/>
<rect x="1683" y="223" width="2" height="1" fill="#000"/>
<rect x="1683" y="256" width="2" height="1" fill="#000"/>
<rect x="1683" y="289" width="2" height="1" fill="#000"/>
<rect x="1683" y="322" width="2" height="1" fill="#000"/>
<rect x="1683" y="355" width="2" height="1" fill="#000"/>
<rect x="1683" y="388" width="2" height="1" fill="#000"/>
<rect x="1683" y="421" width="2" height="1" fill="#000"/>
<rect x="1683" y="454" width="2" height="1" fill="#000"/>
<rect x="1683" y="487" width="2" height="1" fill="#000"/>
<rect x="1683" y="520" width="2" height="1" fill="#000"/>
<rect x="1683" y="527" width="1" height="1" fill="#000"/>
<rect x="1683" y="603" width="1" height="1" fill="#000"/>
<rect x="1683" y="690" width="1" height="1" fill="#000"/>
<rect x="1683" y="695" width="1" height="1" fill="#000"/>
<rect x="1683" y="817" width="1" height="1" fill="#000"/>
<rect x="2" y="819" width="1" height="3" fill="#000"/>
<rect x="66" y="819" width="1" height="3" fill="#000"/>
<rect x="130" y="819" width="1" height="3" fill="#000"/>
<rect x="194" y="819" width="1" height="3" fill="#000"/>
<rect x="258" y="819" width="1" height="3" fill="#000"/>
<rect x="322" y="819" width="1" height="3" fill="#000"/>
<rect x="386" y="819" width="1" height="3" fill="#000"/>
<rect x="450" y="819" width="1" height="3" fill="#000"/>
<rect x="514" y="819" width="1" height="3" fill="#000"/>
<rect x="578" y="819" width="1" height="3" fill="#000"/>
<rect x="642" y="819" width="1" height="3" fill="#000"/>
<rect x="706" y="819" width="1" height="3" fill="#000"/>
<rect x="770" y="819" width="1" height="3" fill="#000"/>
<rect x="834" y="819" width="1" height="3" fill="#000"/>
<rect x="898" y="819" width="1" height="3" fill="#000"/>
<rect x="962" y="819" width="1" height="3" fill="#000"/>
<rect x="1026" y="819" width="1" height="3" fill="#000"/>
<rect x="1090" y="819" width="1" height="3" fill="#000"/>
<rect x="1154" y="819" width="1" height="3" fill="#000"/>
<rect x="1218" y="819" width="1" height="3" fill="#000"/>
<rect x="1282" y="819" width="1" height="3" fill="#000"/>
</g>
<text transform="translate(16.6 13.7) scale(1 1.08) skewX(.05)" class="s"><tspan x="0.0" textLength="57.6" lengthAdjust="spacingAndGlyphs">XAUUSD-,H4</tspan> <tspan x="63.0" textLength="141.6" lengthAdjust="spacingAndGlyphs">1795.97 1796.14 1795.55 1795.80</tspan></text>
<text transform="translate(5.8 538) scale(1 1.08) skewX(.05)" class="s"><tspan x="0.0" textLength="65.6" lengthAdjust="spacingAndGlyphs">MACD(12,26,9)</tspan> <tspan x="69.1" textLength="28.6" lengthAdjust="spacingAndGlyphs">10.323</tspan> <tspan x="99.8" textLength="23.8" lengthAdjust="spacingAndGlyphs">9.084</tspan></text>
<text transform="translate(5.8 706) scale(1 1.08) skewX(.05)" class="s"><tspan x="0.0" textLength="32.2" lengthAdjust="spacingAndGlyphs">RSI(14)</tspan> <tspan x="34.5" textLength="34.2" lengthAdjust="spacingAndGlyphs">71.7808</tspan></text>
<text transform="translate(1688.2 28.6) scale(1 1.08) skewX(.05)" class="s">1815.35</text>
<text transform="translate(1688.2 61.6) scale(1 1.08) skewX(.05)" class="s">1809.05</text>
<text transform="translate(1688.2 94.6) scale(1 1.08) skewX(.05)" class="s">1802.60</text>
<text transform="translate(1688.2 127.6) scale(1 1.08) skewX(.05)" class="s">1796.30</text>
<text transform="translate(1688.2 160.6) scale(1 1.08) skewX(.05)" class="s">1789.85</text>
<text transform="translate(1688.2 193.6) scale(1 1.08) skewX(.05)" class="s">1783.55</text>
<text transform="translate(1688.2 226.6) scale(1 1.08) skewX(.05)" class="s">1777.10</text>
<text transform="translate(1688.2 259.6) scale(1 1.08) skewX(.05)" class="s">1770.80</text>
<text transform="translate(1688.2 292.6) scale(1 1.08) skewX(.05)" class="s">1764.35</text>
<text transform="translate(1688.2 325.6) scale(1 1.08) skewX(.05)" class="s">1757.90</text>
<text transform="translate(1688.2 358.6) scale(1 1.08) skewX(.05)" class="s">1751.60</text>
<text transform="translate(1688.2 391.6) scale(1 1.08) skewX(.05)" class="s">1745.15</text>
<text transform="translate(1688.2 424.6) scale(1 1.08) skewX(.05)" class="s">1738.85</text>
<text transform="translate(1688.2 457.6) scale(1 1.08) skewX(.05)" class="s">1732.40</text>
<text transform="translate(1688.2 490.6) scale(1 1.08) skewX(.05)" class="s">1726.10</text>
<text transform="translate(1688.2 523.6) scale(1 1.08) skewX(.05)" class="s">1719.65</text>
<g shape-rendering="crispEdges">
<rect x="1684" y="73" width="41" height="11" fill="#ff0000"/>
<rect x="1684" y="122" width="41" height="11" fill="#000000"/>
<rect x="1684" y="176" width="41" height="11" fill="#32cd32"/>
<rect x="1684" y="254" width="41" height="11" fill="#4169e1"/>
<rect x="1684" y="357" width="41" height="11" fill="#4169e1"/>
<rect x="1684" y="461" width="41" height="11" fill="#4169e1"/>
</g>
<text transform="translate(1688.2 81.7) scale(1 1.08) skewX(.05)" class="w">1805.00</text>
<text transform="translate(1688.2 130.7) scale(1 1.08) skewX(.05)" class="w">1795.80</text>
<text transform="translate(1688.2 184.7) scale(1 1.08) skewX(.05)" class="w">1785.00</text>
<text transform="translate(1688.2 262.7) scale(1 1.08) skewX(.05)" class="w">1770.00</text>
<text transform="translate(1688.2 365.7) scale(1 1.08) skewX(.05)" class="w">1750.00</text>
<text transform="translate(1688.2 469.7) scale(1 1.08) skewX(.05)" class="w">1730.00</text>
<text transform="translate(1686.4 536) scale(1 1.08) skewX(.05)" class="s">11.556</text>
<text transform="translate(1686.2 607) scale(1 1.08) skewX(.05)" class="s">0.00</text>
<text transform="translate(1685.8 688) scale(1 1.08) skewX(.05)" class="s">-13.134</text>
<text transform="translate(1686.2 704) scale(1 1.08) skewX(.05)" class="s">100</text>
<text transform="translate(1685.1 735) scale(1 1.08) skewX(.05)" class="s">70</text>
<text transform="translate(1685.1 785) scale(1 1.08) skewX(.05)" class="s">30</text>
<text transform="translate(1685.7 815) scale(1 1.08) skewX(.05)" class="s">0</text>
<text transform="translate(1.1 831) scale(1 1.08) skewX(.05)" class="s" style="word-spacing:.6px">7 Sep 2021</text>
<text transform="translate(65.1 831) scale(1 1.08) skewX(.05)" class="s" style="word-spacing:.6px">8 Sep 20:00</text>
<text transform="translate(129.1 831) scale(1 1.08) skewX(.05)" class="s" style="word-spacing:.6px">10 Sep 00:00</text>
<text transform="translate(193.1 831) scale(1 1.08) skewX(.05)" class="s" style="word-spacing:.6px">13 Sep 08:00</text>
<text transform="translate(257.1 831) scale(1 1.08) skewX(.05)" class="s" style="word-spacing:.6px">14 Sep 16:00</text>
<text transform="translate(321.1 831) scale(1 1.08) skewX(.05)" class="s" style="word-spacing:.6px">16 Sep 00:00</text>
<text transform="translate(385.1 831) scale(1 1.08) skewX(.05)" class="s" style="word-spacing:.6px">17 Sep 08:00</text>
<text transform="translate(449.1 831) scale(1 1.08) skewX(.05)" class="s" style="word-spacing:.6px">20 Sep 16:00</text>
<text transform="translate(513.1 831) scale(1 1.08) skewX(.05)" class="s" style="word-spacing:.6px">22 Sep 00:00</text>
<text transform="translate(577.1 831) scale(1 1.08) skewX(.05)" class="s" style="word-spacing:.6px">23 Sep 08:00</text>
<text transform="translate(641.1 831) scale(1 1.08) skewX(.05)" class="s" style="word-spacing:.6px">24 Sep 16:00</text>
<text transform="translate(705.1 831) scale(1 1.08) skewX(.05)" class="s" style="word-spacing:.6px">28 Sep 00:00</text>
<text transform="translate(769.1 831) scale(1 1.08) skewX(.05)" class="s" style="word-spacing:.6px">29 Sep 08:00</text>
<text transform="translate(833.1 831) scale(1 1.08) skewX(.05)" class="s" style="word-spacing:.6px">30 Sep 16:00</text>
<text transform="translate(897.1 831) scale(1 1.08) skewX(.05)" class="s" style="word-spacing:.6px">4 Oct 00:00</text>
<text transform="translate(961.1 831) scale(1 1.08) skewX(.05)" class="s" style="word-spacing:.6px">5 Oct 08:00</text>
<text transform="translate(1025.1 831) scale(1 1.08) skewX(.05)" class="s" style="word-spacing:.6px">6 Oct 16:00</text>
<text transform="translate(1089.1 831) scale(1 1.08) skewX(.05)" class="s" style="word-spacing:.6px">8 Oct 00:00</text>
<text transform="translate(1153.1 831) scale(1 1.08) skewX(.05)" class="s" style="word-spacing:.6px">11 Oct 08:00</text>
<text transform="translate(1217.1 831) scale(1 1.08) skewX(.05)" class="s" style="word-spacing:.6px">12 Oct 16:00</text>
<text transform="translate(1281.1 831) scale(1 1.08) skewX(.05)" class="s" style="word-spacing:.6px">14 Oct 00:00</text>
<text transform="translate(1372.4 235.1) scale(1.012 1.048)" class="cn" style="font-size:36px">多空转折点<tspan x="180.1" dy="-2" style="font-size:37.4px">1785</tspan></text>
</svg></body></html>
